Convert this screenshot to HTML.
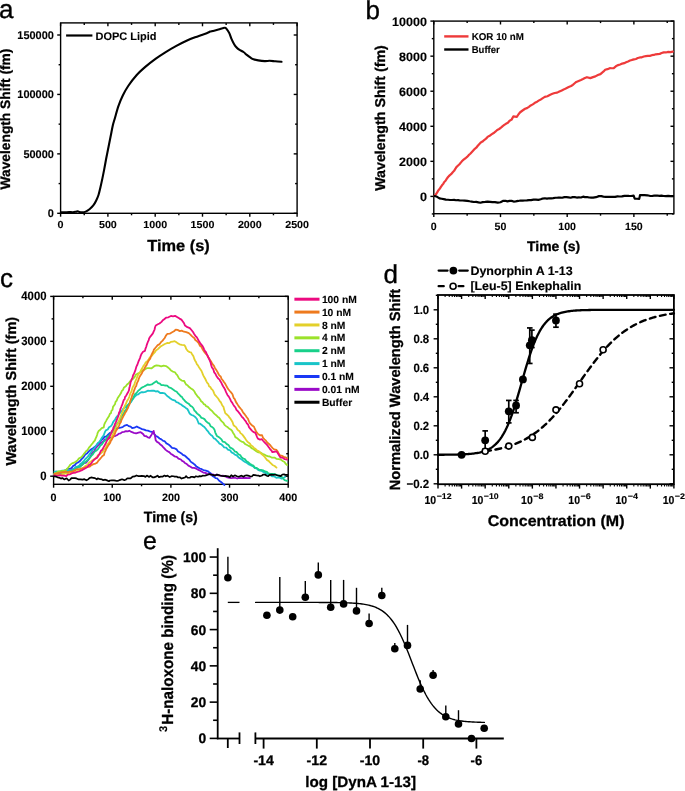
<!DOCTYPE html>
<html><head><meta charset="utf-8"><style>
html,body{margin:0;padding:0;background:#fff;}
svg{display:block;font-family:"Liberation Sans", sans-serif;-webkit-font-smoothing:antialiased;will-change:transform;} text{text-rendering:geometricPrecision;}
</style></head><body>
<svg width="685" height="791" viewBox="0 0 685 791">
<rect x="60.60" y="22.90" width="236.50" height="190.40" fill="none" stroke="#000" stroke-width="1.4"/>
<line x1="60.60" y1="213.30" x2="60.60" y2="216.70" stroke="#000" stroke-width="1.4" />
<line x1="60.60" y1="22.90" x2="60.60" y2="26.30" stroke="#000" stroke-width="1.4" />
<line x1="84.25" y1="213.30" x2="84.25" y2="215.30" stroke="#000" stroke-width="1.4" />
<line x1="84.25" y1="22.90" x2="84.25" y2="24.90" stroke="#000" stroke-width="1.4" />
<line x1="107.90" y1="213.30" x2="107.90" y2="216.70" stroke="#000" stroke-width="1.4" />
<line x1="107.90" y1="22.90" x2="107.90" y2="26.30" stroke="#000" stroke-width="1.4" />
<line x1="131.55" y1="213.30" x2="131.55" y2="215.30" stroke="#000" stroke-width="1.4" />
<line x1="131.55" y1="22.90" x2="131.55" y2="24.90" stroke="#000" stroke-width="1.4" />
<line x1="155.20" y1="213.30" x2="155.20" y2="216.70" stroke="#000" stroke-width="1.4" />
<line x1="155.20" y1="22.90" x2="155.20" y2="26.30" stroke="#000" stroke-width="1.4" />
<line x1="178.85" y1="213.30" x2="178.85" y2="215.30" stroke="#000" stroke-width="1.4" />
<line x1="178.85" y1="22.90" x2="178.85" y2="24.90" stroke="#000" stroke-width="1.4" />
<line x1="202.50" y1="213.30" x2="202.50" y2="216.70" stroke="#000" stroke-width="1.4" />
<line x1="202.50" y1="22.90" x2="202.50" y2="26.30" stroke="#000" stroke-width="1.4" />
<line x1="226.15" y1="213.30" x2="226.15" y2="215.30" stroke="#000" stroke-width="1.4" />
<line x1="226.15" y1="22.90" x2="226.15" y2="24.90" stroke="#000" stroke-width="1.4" />
<line x1="249.80" y1="213.30" x2="249.80" y2="216.70" stroke="#000" stroke-width="1.4" />
<line x1="249.80" y1="22.90" x2="249.80" y2="26.30" stroke="#000" stroke-width="1.4" />
<line x1="273.45" y1="213.30" x2="273.45" y2="215.30" stroke="#000" stroke-width="1.4" />
<line x1="273.45" y1="22.90" x2="273.45" y2="24.90" stroke="#000" stroke-width="1.4" />
<line x1="297.10" y1="213.30" x2="297.10" y2="216.70" stroke="#000" stroke-width="1.4" />
<line x1="297.10" y1="22.90" x2="297.10" y2="26.30" stroke="#000" stroke-width="1.4" />
<line x1="57.20" y1="213.30" x2="60.60" y2="213.30" stroke="#000" stroke-width="1.4" />
<line x1="297.10" y1="213.30" x2="293.70" y2="213.30" stroke="#000" stroke-width="1.4" />
<line x1="58.60" y1="183.58" x2="60.60" y2="183.58" stroke="#000" stroke-width="1.4" />
<line x1="297.10" y1="183.58" x2="295.10" y2="183.58" stroke="#000" stroke-width="1.4" />
<line x1="57.20" y1="153.87" x2="60.60" y2="153.87" stroke="#000" stroke-width="1.4" />
<line x1="297.10" y1="153.87" x2="293.70" y2="153.87" stroke="#000" stroke-width="1.4" />
<line x1="58.60" y1="124.15" x2="60.60" y2="124.15" stroke="#000" stroke-width="1.4" />
<line x1="297.10" y1="124.15" x2="295.10" y2="124.15" stroke="#000" stroke-width="1.4" />
<line x1="57.20" y1="94.43" x2="60.60" y2="94.43" stroke="#000" stroke-width="1.4" />
<line x1="297.10" y1="94.43" x2="293.70" y2="94.43" stroke="#000" stroke-width="1.4" />
<line x1="58.60" y1="64.72" x2="60.60" y2="64.72" stroke="#000" stroke-width="1.4" />
<line x1="297.10" y1="64.72" x2="295.10" y2="64.72" stroke="#000" stroke-width="1.4" />
<line x1="57.20" y1="35.00" x2="60.60" y2="35.00" stroke="#000" stroke-width="1.4" />
<line x1="297.10" y1="35.00" x2="293.70" y2="35.00" stroke="#000" stroke-width="1.4" />
<text x="53.90" y="217.20" font-size="11.2" font-weight="bold" text-anchor="end" fill="#000" stroke="#000" stroke-width="0.1" textLength="6.1" lengthAdjust="spacingAndGlyphs" >0</text>
<text x="53.90" y="157.77" font-size="11.2" font-weight="bold" text-anchor="end" fill="#000" stroke="#000" stroke-width="0.1" textLength="30.5" lengthAdjust="spacingAndGlyphs" >50000</text>
<text x="53.90" y="98.33" font-size="11.2" font-weight="bold" text-anchor="end" fill="#000" stroke="#000" stroke-width="0.1" textLength="36.6" lengthAdjust="spacingAndGlyphs" >100000</text>
<text x="53.90" y="38.90" font-size="11.2" font-weight="bold" text-anchor="end" fill="#000" stroke="#000" stroke-width="0.1" textLength="36.6" lengthAdjust="spacingAndGlyphs" >150000</text>
<text x="60.60" y="228.30" font-size="10.2" font-weight="bold" text-anchor="middle" fill="#000" stroke="#000" stroke-width="0.1" textLength="6.0" lengthAdjust="spacingAndGlyphs" >0</text>
<text x="107.90" y="228.30" font-size="10.2" font-weight="bold" text-anchor="middle" fill="#000" stroke="#000" stroke-width="0.1" textLength="17.9" lengthAdjust="spacingAndGlyphs" >500</text>
<text x="155.20" y="228.30" font-size="10.2" font-weight="bold" text-anchor="middle" fill="#000" stroke="#000" stroke-width="0.1" textLength="23.8" lengthAdjust="spacingAndGlyphs" >1000</text>
<text x="202.50" y="228.30" font-size="10.2" font-weight="bold" text-anchor="middle" fill="#000" stroke="#000" stroke-width="0.1" textLength="23.8" lengthAdjust="spacingAndGlyphs" >1500</text>
<text x="249.80" y="228.30" font-size="10.2" font-weight="bold" text-anchor="middle" fill="#000" stroke="#000" stroke-width="0.1" textLength="23.8" lengthAdjust="spacingAndGlyphs" >2000</text>
<text x="297.10" y="228.30" font-size="10.2" font-weight="bold" text-anchor="middle" fill="#000" stroke="#000" stroke-width="0.1" textLength="23.8" lengthAdjust="spacingAndGlyphs" >2500</text>
<text x="178.50" y="251.20" font-size="16" font-weight="bold" text-anchor="middle" fill="#000" stroke="#000" stroke-width="0.3" textLength="62.5" lengthAdjust="spacingAndGlyphs" >Time (s)</text>
<text x="10.30" y="119.00" font-size="13.7" font-weight="bold" text-anchor="middle" fill="#000" stroke="#000" stroke-width="0.3" textLength="140.8" lengthAdjust="spacingAndGlyphs" transform="rotate(-90 10.30 119.00)" >Wavelength Shift (fm)</text>
<text x="-1.00" y="17.60" font-size="26" font-weight="normal" text-anchor="start" fill="#000" stroke="#000" stroke-width="0.35" >a</text>
<line x1="66.10" y1="35.50" x2="92.40" y2="35.50" stroke="#000" stroke-width="2.2" />
<text x="95.50" y="39.60" font-size="11" font-weight="bold" text-anchor="start" fill="#000" stroke="#000" stroke-width="0.1" textLength="61" lengthAdjust="spacingAndGlyphs" >DOPC Lipid</text>
<path d="M60.90,212.40 C61.58,212.38 63.65,212.35 65.00,212.30 C66.35,212.25 67.67,212.12 69.00,212.10 C70.33,212.08 71.83,212.27 73.00,212.20 C74.17,212.13 75.20,211.85 76.00,211.70 C76.80,211.55 77.22,211.25 77.80,211.30 C78.38,211.35 78.80,211.83 79.50,212.00 C80.20,212.17 80.97,212.37 82.00,212.30 C83.03,212.23 84.45,212.12 85.70,211.60 C86.95,211.08 88.23,210.23 89.50,209.20 C90.77,208.17 92.20,206.82 93.30,205.40 C94.40,203.98 95.23,202.43 96.10,200.70 C96.97,198.97 97.78,197.22 98.50,195.00 C99.22,192.78 99.77,190.08 100.40,187.40 C101.03,184.72 101.67,181.90 102.30,178.90 C102.93,175.90 103.57,172.72 104.20,169.40 C104.83,166.08 105.47,162.32 106.10,159.00 C106.73,155.68 107.37,152.67 108.00,149.50 C108.63,146.33 109.40,142.50 109.90,140.00 C110.40,137.50 110.50,137.00 111.00,134.50 C111.50,132.00 112.27,127.67 112.90,125.00 C113.53,122.33 113.88,121.65 114.80,118.50 C115.72,115.35 117.07,109.93 118.40,106.10 C119.73,102.27 121.17,98.85 122.80,95.50 C124.43,92.15 125.92,89.38 128.20,86.00 C130.48,82.62 133.65,78.38 136.50,75.20 C139.35,72.02 142.13,69.62 145.30,66.90 C148.47,64.18 152.10,61.37 155.50,58.90 C158.90,56.43 162.30,54.23 165.70,52.10 C169.10,49.97 172.25,48.07 175.90,46.10 C179.55,44.13 184.42,41.77 187.60,40.30 C190.78,38.83 192.78,38.15 195.00,37.30 C197.22,36.45 198.95,35.88 200.90,35.20 C202.85,34.52 205.15,33.80 206.70,33.20 C208.25,32.60 209.22,31.97 210.20,31.60 C211.18,31.23 211.23,31.33 212.60,31.00 C213.97,30.67 216.75,30.05 218.40,29.60 C220.05,29.15 221.40,28.60 222.50,28.30 C223.60,28.00 224.27,27.63 225.00,27.80 C225.73,27.97 226.18,28.42 226.90,29.30 C227.62,30.18 228.52,31.45 229.30,33.10 C230.08,34.75 230.82,37.38 231.60,39.20 C232.38,41.02 233.20,42.65 234.00,44.00 C234.80,45.35 235.53,46.35 236.40,47.30 C237.27,48.25 238.02,48.92 239.20,49.70 C240.38,50.48 242.23,51.13 243.50,52.00 C244.77,52.87 245.62,53.95 246.80,54.90 C247.98,55.85 249.48,56.97 250.60,57.70 C251.72,58.43 252.23,58.85 253.50,59.30 C254.77,59.75 256.32,60.10 258.20,60.40 C260.08,60.70 262.90,61.03 264.80,61.10 C266.70,61.17 267.85,60.77 269.60,60.80 C271.35,60.83 273.32,61.13 275.30,61.30 C277.28,61.47 280.47,61.72 281.50,61.80" fill="none" stroke="#000" stroke-width="2.1" stroke-linejoin="round" stroke-linecap="round" />
<rect x="433.80" y="21.10" width="240.10" height="192.60" fill="none" stroke="#000" stroke-width="1.4"/>
<line x1="433.80" y1="213.70" x2="433.80" y2="217.10" stroke="#000" stroke-width="1.4" />
<line x1="433.80" y1="21.10" x2="433.80" y2="24.50" stroke="#000" stroke-width="1.4" />
<line x1="467.15" y1="213.70" x2="467.15" y2="215.70" stroke="#000" stroke-width="1.4" />
<line x1="467.15" y1="21.10" x2="467.15" y2="23.10" stroke="#000" stroke-width="1.4" />
<line x1="500.49" y1="213.70" x2="500.49" y2="217.10" stroke="#000" stroke-width="1.4" />
<line x1="500.49" y1="21.10" x2="500.49" y2="24.50" stroke="#000" stroke-width="1.4" />
<line x1="533.84" y1="213.70" x2="533.84" y2="215.70" stroke="#000" stroke-width="1.4" />
<line x1="533.84" y1="21.10" x2="533.84" y2="23.10" stroke="#000" stroke-width="1.4" />
<line x1="567.19" y1="213.70" x2="567.19" y2="217.10" stroke="#000" stroke-width="1.4" />
<line x1="567.19" y1="21.10" x2="567.19" y2="24.50" stroke="#000" stroke-width="1.4" />
<line x1="600.54" y1="213.70" x2="600.54" y2="215.70" stroke="#000" stroke-width="1.4" />
<line x1="600.54" y1="21.10" x2="600.54" y2="23.10" stroke="#000" stroke-width="1.4" />
<line x1="633.88" y1="213.70" x2="633.88" y2="217.10" stroke="#000" stroke-width="1.4" />
<line x1="633.88" y1="21.10" x2="633.88" y2="24.50" stroke="#000" stroke-width="1.4" />
<line x1="667.23" y1="213.70" x2="667.23" y2="215.70" stroke="#000" stroke-width="1.4" />
<line x1="667.23" y1="21.10" x2="667.23" y2="23.10" stroke="#000" stroke-width="1.4" />
<line x1="431.80" y1="213.93" x2="433.80" y2="213.93" stroke="#000" stroke-width="1.4" />
<line x1="673.90" y1="213.93" x2="671.90" y2="213.93" stroke="#000" stroke-width="1.4" />
<line x1="430.40" y1="196.40" x2="433.80" y2="196.40" stroke="#000" stroke-width="1.4" />
<line x1="673.90" y1="196.40" x2="670.50" y2="196.40" stroke="#000" stroke-width="1.4" />
<line x1="431.80" y1="178.87" x2="433.80" y2="178.87" stroke="#000" stroke-width="1.4" />
<line x1="673.90" y1="178.87" x2="671.90" y2="178.87" stroke="#000" stroke-width="1.4" />
<line x1="430.40" y1="161.34" x2="433.80" y2="161.34" stroke="#000" stroke-width="1.4" />
<line x1="673.90" y1="161.34" x2="670.50" y2="161.34" stroke="#000" stroke-width="1.4" />
<line x1="431.80" y1="143.81" x2="433.80" y2="143.81" stroke="#000" stroke-width="1.4" />
<line x1="673.90" y1="143.81" x2="671.90" y2="143.81" stroke="#000" stroke-width="1.4" />
<line x1="430.40" y1="126.28" x2="433.80" y2="126.28" stroke="#000" stroke-width="1.4" />
<line x1="673.90" y1="126.28" x2="670.50" y2="126.28" stroke="#000" stroke-width="1.4" />
<line x1="431.80" y1="108.75" x2="433.80" y2="108.75" stroke="#000" stroke-width="1.4" />
<line x1="673.90" y1="108.75" x2="671.90" y2="108.75" stroke="#000" stroke-width="1.4" />
<line x1="430.40" y1="91.22" x2="433.80" y2="91.22" stroke="#000" stroke-width="1.4" />
<line x1="673.90" y1="91.22" x2="670.50" y2="91.22" stroke="#000" stroke-width="1.4" />
<line x1="431.80" y1="73.69" x2="433.80" y2="73.69" stroke="#000" stroke-width="1.4" />
<line x1="673.90" y1="73.69" x2="671.90" y2="73.69" stroke="#000" stroke-width="1.4" />
<line x1="430.40" y1="56.16" x2="433.80" y2="56.16" stroke="#000" stroke-width="1.4" />
<line x1="673.90" y1="56.16" x2="670.50" y2="56.16" stroke="#000" stroke-width="1.4" />
<line x1="431.80" y1="38.63" x2="433.80" y2="38.63" stroke="#000" stroke-width="1.4" />
<line x1="673.90" y1="38.63" x2="671.90" y2="38.63" stroke="#000" stroke-width="1.4" />
<line x1="430.40" y1="21.10" x2="433.80" y2="21.10" stroke="#000" stroke-width="1.4" />
<line x1="673.90" y1="21.10" x2="670.50" y2="21.10" stroke="#000" stroke-width="1.4" />
<text x="426.90" y="200.90" font-size="12.2" font-weight="bold" text-anchor="end" fill="#000" stroke="#000" stroke-width="0.15" textLength="7.0" lengthAdjust="spacingAndGlyphs" >0</text>
<text x="426.90" y="165.84" font-size="12.2" font-weight="bold" text-anchor="end" fill="#000" stroke="#000" stroke-width="0.15" textLength="27.8" lengthAdjust="spacingAndGlyphs" >2000</text>
<text x="426.90" y="130.78" font-size="12.2" font-weight="bold" text-anchor="end" fill="#000" stroke="#000" stroke-width="0.15" textLength="27.8" lengthAdjust="spacingAndGlyphs" >4000</text>
<text x="426.90" y="95.72" font-size="12.2" font-weight="bold" text-anchor="end" fill="#000" stroke="#000" stroke-width="0.15" textLength="27.8" lengthAdjust="spacingAndGlyphs" >6000</text>
<text x="426.90" y="60.66" font-size="12.2" font-weight="bold" text-anchor="end" fill="#000" stroke="#000" stroke-width="0.15" textLength="27.8" lengthAdjust="spacingAndGlyphs" >8000</text>
<text x="426.90" y="25.60" font-size="12.2" font-weight="bold" text-anchor="end" fill="#000" stroke="#000" stroke-width="0.15" textLength="34.8" lengthAdjust="spacingAndGlyphs" >10000</text>
<text x="433.80" y="229.50" font-size="10.5" font-weight="bold" text-anchor="middle" fill="#000" stroke="#000" stroke-width="0.1" textLength="5.9" lengthAdjust="spacingAndGlyphs" >0</text>
<text x="500.49" y="229.50" font-size="10.5" font-weight="bold" text-anchor="middle" fill="#000" stroke="#000" stroke-width="0.1" textLength="11.8" lengthAdjust="spacingAndGlyphs" >50</text>
<text x="567.19" y="229.50" font-size="10.5" font-weight="bold" text-anchor="middle" fill="#000" stroke="#000" stroke-width="0.1" textLength="17.7" lengthAdjust="spacingAndGlyphs" >100</text>
<text x="633.88" y="229.50" font-size="10.5" font-weight="bold" text-anchor="middle" fill="#000" stroke="#000" stroke-width="0.1" textLength="17.7" lengthAdjust="spacingAndGlyphs" >150</text>
<text x="553.60" y="250.90" font-size="13.8" font-weight="bold" text-anchor="middle" fill="#000" stroke="#000" stroke-width="0.3" textLength="53.2" lengthAdjust="spacingAndGlyphs" >Time (s)</text>
<text x="384.50" y="118.00" font-size="14.2" font-weight="bold" text-anchor="middle" fill="#000" stroke="#000" stroke-width="0.3" textLength="145.6" lengthAdjust="spacingAndGlyphs" transform="rotate(-90 384.50 118.00)" >Wavelength Shift (fm)</text>
<text x="365.50" y="18.80" font-size="26" font-weight="normal" text-anchor="start" fill="#000" stroke="#000" stroke-width="0.35" >b</text>
<line x1="444.20" y1="36.40" x2="468.50" y2="36.40" stroke="#ee3a3a" stroke-width="2.4" />
<line x1="444.20" y1="49.50" x2="468.50" y2="49.50" stroke="#000" stroke-width="2.4" />
<text x="471.70" y="40.00" font-size="10" font-weight="bold" text-anchor="start" fill="#000" stroke="#000" stroke-width="0.1" textLength="52.2" lengthAdjust="spacingAndGlyphs" >KOR 10 nM</text>
<text x="471.70" y="53.00" font-size="10" font-weight="bold" text-anchor="start" fill="#000" stroke="#000" stroke-width="0.1" textLength="28.1" lengthAdjust="spacingAndGlyphs" >Buffer</text>
<polyline points="434.63,195.95 435.94,194.27 437.19,192.45 438.29,190.38 439.71,188.84 440.90,186.87 441.99,185.30 443.21,183.84 444.28,181.98 445.55,180.75 446.86,178.65 448.07,176.98 449.63,175.38 451.08,174.22 452.73,172.23 454.12,170.82 455.15,169.08 456.41,167.11 457.83,165.76 459.45,164.28 460.99,162.38 462.37,160.80 463.91,159.34 465.55,158.26 467.08,156.91 468.66,155.19 470.28,153.79 471.66,152.29 473.25,150.53 474.81,148.86 476.26,147.71 477.58,146.02 479.17,144.25 480.76,142.49 482.48,141.59 484.17,140.03 486.02,138.71 487.56,136.91 489.61,135.77 491.51,134.35 493.67,133.02 495.34,131.72 497.20,130.00 499.18,129.00 500.96,127.65 502.68,126.15 504.29,124.94 505.90,123.79 507.88,122.83 509.59,120.80 511.62,119.62 513.28,116.44 516.82,116.80 518.54,114.25 520.19,112.25 522.54,110.50 525.08,108.78 526.99,108.10 528.90,106.84 530.71,105.46 532.78,104.37 534.88,102.81 537.12,101.71 539.06,100.37 540.90,99.44 542.84,98.07 544.78,96.89 547.42,96.19 550.21,94.78 552.43,93.84 554.67,93.03 557.17,92.62 559.37,91.50 561.77,90.38 564.04,89.36 566.33,88.22 568.68,86.99 571.16,86.01 572.82,84.83 574.67,83.28 576.28,81.93 578.64,80.95 580.99,79.99 583.00,79.05 584.90,78.02 586.96,77.20 590.36,78.11 592.94,77.11 595.41,76.37 597.90,75.02 600.42,74.10 602.14,72.59 603.61,71.43 605.16,69.80 607.47,69.15 609.74,68.15 611.73,68.26 613.73,68.13 615.84,66.30 618.19,65.09 620.13,64.54 622.23,63.59 624.19,63.14 626.04,62.26 628.06,61.46 629.98,60.55 631.99,59.93 634.00,59.43 635.89,58.99 637.81,58.07 639.85,57.45 641.78,57.32 643.82,56.47 645.85,56.13 647.81,55.90 649.79,55.90 651.83,55.20 653.80,54.96 655.67,54.29 657.70,54.09 659.76,53.88 661.65,53.06 663.69,52.40 665.81,52.46 668.23,51.93 670.53,52.11 672.80,51.60" fill="none" stroke="#ee3a3a" stroke-width="2.2" stroke-linejoin="round" stroke-linecap="round" />
<polyline points="434.68,196.03 437.10,196.83 439.46,198.31 441.69,198.78 443.76,199.19 445.84,199.61 448.06,199.74 450.01,200.01 451.91,200.00 454.09,199.89 456.08,200.26 458.10,200.10 459.89,200.51 462.49,200.49 464.69,200.54 467.24,200.83 469.73,201.26 471.68,201.55 473.88,201.98 476.19,201.93 478.28,202.30 480.49,202.73 482.67,202.15 485.23,201.96 487.62,201.66 490.11,201.82 492.39,202.16 494.95,202.09 497.80,202.55 500.47,202.26 503.36,200.86 505.45,200.81 507.40,201.38 509.56,200.91 511.57,200.92 513.60,201.55 515.68,201.35 518.17,200.96 520.53,200.49 522.83,200.57 524.85,200.50 526.89,200.38 529.08,200.09 531.09,200.14 533.50,199.61 536.02,199.64 538.37,199.90 540.71,199.27 542.69,198.56 544.86,198.27 546.99,198.68 549.03,198.26 551.31,198.34 553.24,198.18 555.49,197.75 557.67,197.66 559.99,197.48 562.14,197.73 564.42,197.11 566.43,197.15 568.47,197.34 570.68,197.73 572.64,197.15 574.76,197.11 576.72,197.54 578.82,197.43 580.96,197.51 583.10,196.69 584.91,197.11 587.03,197.00 589.08,197.52 591.15,197.53 593.19,197.70 596.00,197.19 598.93,196.15 601.24,196.18 603.39,196.64 605.79,196.88 608.14,196.81 610.30,196.97 612.58,196.88 615.13,196.92 617.44,196.43 619.70,196.50 621.87,196.44 624.40,195.93 626.68,195.76 628.84,195.95 631.08,196.01 633.63,195.65 634.72,198.61 636.95,198.75 639.23,198.85 639.72,196.62 639.98,195.22 642.39,195.22 644.47,195.17 647.36,195.29 650.34,195.99 652.63,195.94 654.76,195.50 657.16,195.53 659.33,195.83 661.54,195.62 663.64,195.99 665.85,196.06 668.10,195.95 670.55,196.15 673.10,196.10" fill="none" stroke="#000" stroke-width="2.2" stroke-linejoin="round" stroke-linecap="round" />
<rect x="53.60" y="296.30" width="234.60" height="188.00" fill="none" stroke="#000" stroke-width="1.4"/>
<line x1="53.60" y1="484.30" x2="53.60" y2="487.70" stroke="#000" stroke-width="1.4" />
<line x1="53.60" y1="296.30" x2="53.60" y2="299.70" stroke="#000" stroke-width="1.4" />
<line x1="82.92" y1="484.30" x2="82.92" y2="486.30" stroke="#000" stroke-width="1.4" />
<line x1="82.92" y1="296.30" x2="82.92" y2="298.30" stroke="#000" stroke-width="1.4" />
<line x1="112.25" y1="484.30" x2="112.25" y2="487.70" stroke="#000" stroke-width="1.4" />
<line x1="112.25" y1="296.30" x2="112.25" y2="299.70" stroke="#000" stroke-width="1.4" />
<line x1="141.57" y1="484.30" x2="141.57" y2="486.30" stroke="#000" stroke-width="1.4" />
<line x1="141.57" y1="296.30" x2="141.57" y2="298.30" stroke="#000" stroke-width="1.4" />
<line x1="170.90" y1="484.30" x2="170.90" y2="487.70" stroke="#000" stroke-width="1.4" />
<line x1="170.90" y1="296.30" x2="170.90" y2="299.70" stroke="#000" stroke-width="1.4" />
<line x1="200.22" y1="484.30" x2="200.22" y2="486.30" stroke="#000" stroke-width="1.4" />
<line x1="200.22" y1="296.30" x2="200.22" y2="298.30" stroke="#000" stroke-width="1.4" />
<line x1="229.55" y1="484.30" x2="229.55" y2="487.70" stroke="#000" stroke-width="1.4" />
<line x1="229.55" y1="296.30" x2="229.55" y2="299.70" stroke="#000" stroke-width="1.4" />
<line x1="258.88" y1="484.30" x2="258.88" y2="486.30" stroke="#000" stroke-width="1.4" />
<line x1="258.88" y1="296.30" x2="258.88" y2="298.30" stroke="#000" stroke-width="1.4" />
<line x1="288.20" y1="484.30" x2="288.20" y2="487.70" stroke="#000" stroke-width="1.4" />
<line x1="288.20" y1="296.30" x2="288.20" y2="299.70" stroke="#000" stroke-width="1.4" />
<line x1="50.20" y1="476.20" x2="53.60" y2="476.20" stroke="#000" stroke-width="1.4" />
<line x1="288.20" y1="476.20" x2="284.80" y2="476.20" stroke="#000" stroke-width="1.4" />
<line x1="51.60" y1="453.72" x2="53.60" y2="453.72" stroke="#000" stroke-width="1.4" />
<line x1="288.20" y1="453.72" x2="286.20" y2="453.72" stroke="#000" stroke-width="1.4" />
<line x1="50.20" y1="431.25" x2="53.60" y2="431.25" stroke="#000" stroke-width="1.4" />
<line x1="288.20" y1="431.25" x2="284.80" y2="431.25" stroke="#000" stroke-width="1.4" />
<line x1="51.60" y1="408.77" x2="53.60" y2="408.77" stroke="#000" stroke-width="1.4" />
<line x1="288.20" y1="408.77" x2="286.20" y2="408.77" stroke="#000" stroke-width="1.4" />
<line x1="50.20" y1="386.30" x2="53.60" y2="386.30" stroke="#000" stroke-width="1.4" />
<line x1="288.20" y1="386.30" x2="284.80" y2="386.30" stroke="#000" stroke-width="1.4" />
<line x1="51.60" y1="363.82" x2="53.60" y2="363.82" stroke="#000" stroke-width="1.4" />
<line x1="288.20" y1="363.82" x2="286.20" y2="363.82" stroke="#000" stroke-width="1.4" />
<line x1="50.20" y1="341.35" x2="53.60" y2="341.35" stroke="#000" stroke-width="1.4" />
<line x1="288.20" y1="341.35" x2="284.80" y2="341.35" stroke="#000" stroke-width="1.4" />
<line x1="51.60" y1="318.88" x2="53.60" y2="318.88" stroke="#000" stroke-width="1.4" />
<line x1="288.20" y1="318.88" x2="286.20" y2="318.88" stroke="#000" stroke-width="1.4" />
<line x1="50.20" y1="296.40" x2="53.60" y2="296.40" stroke="#000" stroke-width="1.4" />
<line x1="288.20" y1="296.40" x2="284.80" y2="296.40" stroke="#000" stroke-width="1.4" />
<text x="46.50" y="479.90" font-size="12.2" font-weight="bold" text-anchor="end" fill="#000" stroke="#000" stroke-width="0.15" textLength="6.3" lengthAdjust="spacingAndGlyphs" >0</text>
<text x="46.50" y="434.95" font-size="12.2" font-weight="bold" text-anchor="end" fill="#000" stroke="#000" stroke-width="0.15" textLength="25.2" lengthAdjust="spacingAndGlyphs" >1000</text>
<text x="46.50" y="390.00" font-size="12.2" font-weight="bold" text-anchor="end" fill="#000" stroke="#000" stroke-width="0.15" textLength="25.2" lengthAdjust="spacingAndGlyphs" >2000</text>
<text x="46.50" y="345.05" font-size="12.2" font-weight="bold" text-anchor="end" fill="#000" stroke="#000" stroke-width="0.15" textLength="25.2" lengthAdjust="spacingAndGlyphs" >3000</text>
<text x="46.50" y="300.10" font-size="12.2" font-weight="bold" text-anchor="end" fill="#000" stroke="#000" stroke-width="0.15" textLength="25.2" lengthAdjust="spacingAndGlyphs" >4000</text>
<text x="53.60" y="500.50" font-size="10.8" font-weight="bold" text-anchor="middle" fill="#000" stroke="#000" stroke-width="0.1" textLength="6.0" lengthAdjust="spacingAndGlyphs" >0</text>
<text x="112.25" y="500.50" font-size="10.8" font-weight="bold" text-anchor="middle" fill="#000" stroke="#000" stroke-width="0.1" textLength="18.0" lengthAdjust="spacingAndGlyphs" >100</text>
<text x="170.90" y="500.50" font-size="10.8" font-weight="bold" text-anchor="middle" fill="#000" stroke="#000" stroke-width="0.1" textLength="18.0" lengthAdjust="spacingAndGlyphs" >200</text>
<text x="229.55" y="500.50" font-size="10.8" font-weight="bold" text-anchor="middle" fill="#000" stroke="#000" stroke-width="0.1" textLength="18.0" lengthAdjust="spacingAndGlyphs" >300</text>
<text x="288.20" y="500.50" font-size="10.8" font-weight="bold" text-anchor="middle" fill="#000" stroke="#000" stroke-width="0.1" textLength="18.0" lengthAdjust="spacingAndGlyphs" >400</text>
<text x="170.80" y="522.30" font-size="14.8" font-weight="bold" text-anchor="middle" fill="#000" stroke="#000" stroke-width="0.3" textLength="54" lengthAdjust="spacingAndGlyphs" >Time (s)</text>
<text x="16.10" y="391.20" font-size="14.4" font-weight="bold" text-anchor="middle" fill="#000" stroke="#000" stroke-width="0.3" textLength="148.8" lengthAdjust="spacingAndGlyphs" transform="rotate(-90 16.10 391.20)" >Wavelength Shift (fm)</text>
<text x="0.00" y="287.20" font-size="26" font-weight="normal" text-anchor="start" fill="#000" stroke="#000" stroke-width="0.35" >c</text>
<line x1="294.40" y1="299.20" x2="319.50" y2="299.20" stroke="#ec0a80" stroke-width="3.0" />
<text x="321.90" y="302.80" font-size="10.3" font-weight="bold" text-anchor="start" fill="#000" stroke="#000" stroke-width="0.1" >100 nM</text>
<line x1="294.40" y1="312.08" x2="319.50" y2="312.08" stroke="#ee7a1e" stroke-width="3.0" />
<text x="321.90" y="315.68" font-size="10.3" font-weight="bold" text-anchor="start" fill="#000" stroke="#000" stroke-width="0.1" >10 nM</text>
<line x1="294.40" y1="324.96" x2="319.50" y2="324.96" stroke="#e3d02a" stroke-width="3.0" />
<text x="321.90" y="328.56" font-size="10.3" font-weight="bold" text-anchor="start" fill="#000" stroke="#000" stroke-width="0.1" >8 nM</text>
<line x1="294.40" y1="337.84" x2="319.50" y2="337.84" stroke="#9be22a" stroke-width="3.0" />
<text x="321.90" y="341.44" font-size="10.3" font-weight="bold" text-anchor="start" fill="#000" stroke="#000" stroke-width="0.1" >4 nM</text>
<line x1="294.40" y1="350.72" x2="319.50" y2="350.72" stroke="#18d08a" stroke-width="3.0" />
<text x="321.90" y="354.32" font-size="10.3" font-weight="bold" text-anchor="start" fill="#000" stroke="#000" stroke-width="0.1" >2 nM</text>
<line x1="294.40" y1="363.60" x2="319.50" y2="363.60" stroke="#18c4c8" stroke-width="3.0" />
<text x="321.90" y="367.20" font-size="10.3" font-weight="bold" text-anchor="start" fill="#000" stroke="#000" stroke-width="0.1" >1 nM</text>
<line x1="294.40" y1="376.48" x2="319.50" y2="376.48" stroke="#1a38f5" stroke-width="3.0" />
<text x="321.90" y="380.08" font-size="10.3" font-weight="bold" text-anchor="start" fill="#000" stroke="#000" stroke-width="0.1" >0.1 nM</text>
<line x1="294.40" y1="389.36" x2="319.50" y2="389.36" stroke="#9a0ac8" stroke-width="3.0" />
<text x="321.90" y="392.96" font-size="10.3" font-weight="bold" text-anchor="start" fill="#000" stroke="#000" stroke-width="0.1" >0.01 nM</text>
<line x1="294.40" y1="402.24" x2="319.50" y2="402.24" stroke="#000000" stroke-width="3.0" />
<text x="321.90" y="405.84" font-size="10.3" font-weight="bold" text-anchor="start" fill="#000" stroke="#000" stroke-width="0.1" >Buffer</text>
<polyline points="54.18,474.25 56.14,473.75 58.16,472.59 59.79,472.87 61.93,471.34 64.28,470.73 66.25,469.87 67.96,468.78 69.76,468.84 71.51,467.97 73.20,465.90 74.86,465.15 76.29,463.21 78.16,462.37 79.38,461.52 80.65,460.26 81.79,458.83 83.10,457.68 84.57,455.46 85.59,454.24 87.30,453.13 88.51,451.63 89.80,450.37 91.33,449.27 93.04,448.29 94.68,447.00 96.36,445.74 97.71,443.40 99.23,442.84 100.68,440.98 101.97,439.36 103.40,438.53 104.53,436.74 106.16,436.54 107.82,434.98 109.96,432.92 111.78,432.36 113.90,430.33 115.65,429.10 118.10,428.21 120.57,427.73 122.60,427.15 124.72,425.53 127.04,424.88 128.67,426.10 130.65,426.62 132.20,428.20 134.42,427.70 136.77,426.47 138.38,427.42 140.26,428.31 142.03,429.13 144.19,429.61 145.97,430.44 147.88,430.58 150.66,431.72 152.92,432.06 154.46,434.29 155.89,435.93 157.76,436.92 159.56,438.44 161.38,439.39 163.19,440.89 164.69,441.22 166.42,443.41 167.67,444.05 169.26,445.10 170.60,446.29 172.04,447.81 174.91,448.46 176.65,449.41 178.10,451.53 179.52,452.29 181.43,453.46 182.86,454.83 184.79,455.61 186.32,457.02 187.97,458.56 189.41,459.69 190.60,461.64 192.27,462.85 193.40,463.61 194.96,464.81 196.51,466.65 197.66,467.16 199.84,468.52 201.73,469.16 203.34,470.07 205.88,470.60 207.93,471.31 209.50,472.63 211.25,473.69 212.38,475.89 214.27,477.07 215.57,478.16 217.29,478.49 219.16,480.77 221.07,482.02 222.66,483.33 224.50,485.00" fill="none" stroke="#1a38f5" stroke-width="1.8" stroke-linejoin="round" stroke-linecap="round" />
<polyline points="54.18,474.52 56.12,474.43 58.00,473.83 59.83,474.21 61.62,474.10 63.39,473.42 64.79,473.27 66.52,471.95 68.41,471.36 69.96,470.98 71.72,469.49 73.22,469.23 74.99,468.31 76.68,466.79 78.52,466.60 80.11,465.70 82.19,464.84 84.01,462.89 85.79,462.77 87.40,461.05 88.60,459.50 89.77,457.62 91.02,455.28 91.80,453.59 92.89,451.97 94.33,451.27 95.00,449.32 96.16,447.56 97.23,446.36 98.88,444.81 100.24,443.53 101.75,442.54 103.56,441.11 104.82,439.65 107.44,439.11 110.12,437.87 112.00,437.34 113.70,436.26 115.60,435.82 117.25,434.97 118.94,433.64 120.66,433.29 122.13,432.16 123.97,431.82 125.99,431.06 127.78,431.32 129.30,430.76 131.43,431.94 133.87,432.83 136.13,433.38 138.50,432.67 140.63,432.10 141.78,433.01 143.32,434.30 144.22,435.76 146.37,436.25 147.79,437.38 149.63,437.78 151.08,435.57 152.40,433.09 153.63,430.89 154.27,433.71 154.89,435.57 155.46,438.73 155.71,440.31 157.33,442.06 158.59,442.55 159.99,444.23 161.65,445.42 162.92,446.87 164.35,448.33 165.68,449.86 167.51,451.20 169.21,452.13 170.98,453.98 172.78,454.92 174.49,456.26 176.74,456.85 178.46,458.64 180.88,459.52 182.10,460.87 183.41,461.49 184.84,462.97 186.32,463.71 188.38,465.63 190.11,466.49 192.06,467.79 194.04,467.91 195.78,468.41 197.79,469.57 199.56,470.31 201.52,471.53 203.34,472.54 205.39,472.88 207.29,473.90 209.34,474.36 211.09,474.71 213.16,474.52 215.00,475.31 216.75,474.70 218.52,475.44 220.58,475.90 222.96,475.68 224.96,476.27 227.26,477.33 229.46,477.81 231.09,478.05 233.02,477.84 235.10,477.74 237.15,478.50 239.58,477.91 242.04,478.19 243.76,477.82 245.92,477.98 247.80,478.09 249.90,478.00" fill="none" stroke="#9a0ac8" stroke-width="1.8" stroke-linejoin="round" stroke-linecap="round" />
<polyline points="54.50,471.88 56.23,471.35 58.02,471.72 59.86,471.73 62.12,470.62 64.05,470.69 65.89,470.88 67.59,470.56 69.66,470.47 71.40,470.18 73.58,469.02 75.27,467.32 77.12,466.51 79.10,465.80 80.55,463.75 82.10,462.74 83.42,461.53 85.15,459.19 86.79,457.71 87.81,456.62 89.20,454.72 90.50,452.89 91.64,450.86 92.81,449.74 94.41,448.03 95.71,446.31 96.80,444.81 98.36,442.92 99.50,441.62 100.78,439.77 101.76,437.86 103.02,436.30 103.94,434.65 104.83,432.28 105.82,430.37 107.72,429.45 109.06,427.26 110.76,426.27 111.97,424.73 112.90,422.53 113.84,421.03 114.93,419.90 115.81,418.01 117.10,416.23 118.13,415.63 119.40,413.63 120.42,412.41 121.66,411.40 122.88,409.22 124.16,407.98 125.48,407.05 126.66,405.90 128.39,404.39 129.77,403.16 131.07,402.03 132.20,400.00 133.66,397.94 134.83,396.50 136.57,394.77 138.13,394.47 139.40,393.35 141.28,392.19 143.22,392.27 145.52,391.91 147.72,390.76 149.82,390.94 151.89,390.74 153.81,390.59 155.83,391.51 157.86,391.23 160.21,392.98 162.33,392.85 164.71,393.37 167.15,396.00 168.99,397.24 170.47,398.56 172.01,399.56 175.11,400.69 176.39,402.21 178.16,402.59 179.54,403.73 181.14,404.53 182.38,405.65 184.22,406.71 185.78,407.91 187.37,409.04 188.61,411.29 189.59,413.47 191.55,415.02 193.41,415.64 195.48,417.20 196.72,418.71 197.72,420.99 198.69,423.51 200.20,423.70 201.74,424.93 203.23,426.28 204.43,427.11 205.85,428.78 207.03,430.41 208.24,431.66 209.09,433.04 210.84,434.94 212.13,435.85 213.78,438.32 215.27,438.79 216.56,440.42 218.15,441.89 219.53,443.69 221.33,444.32 222.78,445.75 224.13,447.36 226.19,447.69 227.91,449.62 230.20,450.35 231.56,452.41 233.13,453.13 234.88,454.67 236.79,455.34 238.38,457.28 240.10,458.41 241.81,459.52 243.26,460.70 245.07,461.98 246.50,462.64 248.35,464.12 249.99,464.88 251.54,465.59 253.29,466.43 254.84,468.21 256.58,468.46 258.06,469.95 259.91,470.67 261.69,470.87 263.37,471.86 264.89,472.56 266.55,473.69 268.70,474.47 270.53,475.15 272.32,476.41 274.39,476.43 276.35,477.76 279.19,477.36 281.68,478.71 285.00,477.00" fill="none" stroke="#18c4c8" stroke-width="1.8" stroke-linejoin="round" stroke-linecap="round" />
<polyline points="54.18,474.27 56.18,474.15 58.17,473.81 60.05,472.79 61.80,472.31 64.00,472.00 65.56,472.58 67.55,472.14 69.41,471.32 71.38,471.36 73.27,470.30 75.06,469.69 76.59,468.53 78.36,467.13 80.25,466.80 81.74,465.08 83.12,464.06 84.70,462.33 86.03,461.48 87.41,460.26 88.97,458.68 90.20,457.45 91.27,455.74 92.88,454.29 93.90,452.58 95.08,451.23 96.67,450.35 97.92,449.14 99.09,447.57 100.34,445.51 101.80,444.54 103.00,442.70 104.12,441.23 105.42,440.41 106.31,439.03 107.46,436.73 108.90,435.56 110.01,434.55 111.00,432.99 112.30,430.97 113.53,429.63 114.91,427.45 115.83,425.78 116.96,423.87 117.85,422.96 119.09,421.52 120.21,419.75 120.94,417.29 121.92,415.96 123.01,414.38 123.94,413.05 124.91,410.96 126.17,409.67 126.91,407.38 128.13,405.46 128.81,404.46 129.96,402.49 130.72,400.96 132.00,399.68 133.07,398.46 134.04,396.06 134.66,394.46 135.97,393.45 137.00,392.30 138.22,390.67 139.49,389.83 141.06,388.19 142.40,387.32 144.16,386.54 145.78,385.64 147.52,384.50 149.78,384.82 151.70,384.46 154.12,382.66 156.35,381.17 158.16,383.14 159.88,383.66 161.37,385.17 163.44,385.21 165.26,385.52 167.16,385.55 168.98,387.44 170.52,387.80 172.03,388.85 175.13,390.95 176.74,391.79 177.99,393.36 179.56,394.89 180.87,396.40 181.90,396.83 183.01,398.83 184.09,399.96 185.73,401.82 186.99,402.72 188.64,403.72 190.57,405.91 192.16,406.76 193.42,408.25 194.32,410.46 195.42,411.35 197.20,413.62 198.42,414.55 199.90,415.79 201.42,417.86 202.88,418.17 204.47,419.14 206.14,421.40 207.82,422.81 209.34,423.66 210.60,426.21 212.01,426.94 213.69,428.44 214.57,429.90 215.28,432.60 216.09,434.25 216.96,436.04 218.60,437.09 219.79,437.86 221.49,439.42 222.66,441.55 224.86,442.14 226.80,444.10 228.45,445.07 230.20,447.69 231.90,448.39 233.38,449.56 235.00,451.59 236.41,451.96 238.47,454.35 240.16,455.02 241.56,457.30 243.29,458.52 244.87,459.10 246.53,461.22 248.37,462.35 249.88,463.64 251.52,464.81 253.35,465.62 254.89,467.60 256.65,467.95 258.94,469.54 260.82,469.78 263.07,470.41 265.18,471.47 266.90,471.81 268.29,473.31 270.40,473.91 272.11,473.86 273.92,473.85 276.02,474.67 278.04,475.28 280.32,475.61 281.68,476.73 283.00,478.38 284.61,480.08 287.10,480.90" fill="none" stroke="#18d08a" stroke-width="1.8" stroke-linejoin="round" stroke-linecap="round" />
<polyline points="54.46,473.47 56.37,472.92 58.53,471.29 60.80,471.26 62.50,470.79 64.24,470.78 66.08,469.88 67.55,468.51 69.18,466.33 70.37,464.63 72.01,463.35 74.15,462.67 75.61,461.69 77.37,460.48 78.99,458.29 80.70,457.67 82.27,456.30 83.72,454.15 84.86,452.71 86.23,450.96 87.67,449.91 88.94,447.59 90.08,446.32 91.55,444.54 92.62,443.22 94.00,441.38 94.83,440.58 95.55,438.59 96.39,436.92 97.15,434.70 97.76,432.57 98.57,431.07 99.99,430.03 101.71,428.06 103.74,427.31 104.22,424.68 105.13,422.66 106.15,420.85 106.86,419.40 107.93,417.77 108.94,416.34 109.81,414.04 111.01,413.01 111.42,410.94 112.51,409.74 113.01,406.86 113.99,405.51 114.97,404.16 115.53,401.91 116.69,400.62 117.57,398.28 118.57,396.76 119.59,395.28 121.01,393.08 121.82,390.94 122.99,389.86 124.02,387.46 125.81,386.28 127.21,384.17 128.71,383.34 130.08,381.37 131.73,379.62 133.24,378.67 134.72,376.92 135.87,374.62 137.57,373.69 139.07,373.11 140.68,371.86 142.99,370.08 144.98,369.39 146.67,368.16 149.05,368.20 151.65,368.29 154.25,366.21 156.46,365.38 158.76,365.53 161.20,366.31 163.63,365.67 165.98,366.04 167.73,367.22 169.39,368.59 170.98,370.42 172.81,371.53 174.95,372.24 176.19,374.04 177.27,375.11 178.58,377.70 179.60,379.09 181.75,380.59 184.18,380.99 185.39,383.26 186.33,384.70 187.54,385.22 188.80,386.82 191.05,388.49 193.03,389.83 194.49,391.51 195.48,393.67 196.58,394.99 197.79,396.81 198.77,397.45 200.16,399.41 201.11,401.23 202.52,402.30 203.71,404.07 205.03,404.60 206.13,406.15 207.88,406.91 209.19,408.27 210.51,409.84 212.08,410.92 213.30,412.53 214.82,414.15 216.16,415.21 217.57,416.65 219.13,417.74 220.30,419.58 221.79,421.31 223.20,422.56 224.79,425.17 226.36,426.42 227.58,427.07 228.95,428.50 230.67,429.43 232.10,430.97 233.00,432.77 234.37,434.72 235.33,437.11 236.77,437.86 238.71,439.54 240.20,440.72 241.52,441.56 243.41,442.10 244.93,443.92 246.52,444.69 248.10,445.58 249.80,446.41 251.49,448.13 253.31,449.05 254.93,450.30 256.63,451.43 258.52,452.44 260.45,452.50 262.35,453.80 264.37,454.58 266.27,455.70 268.19,456.35 269.74,456.50 272.06,457.70 274.45,457.54 276.35,458.83 278.81,459.18 281.00,459.71 283.12,461.19 284.48,461.96 285.61,463.80 287.10,465.00" fill="none" stroke="#9be22a" stroke-width="1.8" stroke-linejoin="round" stroke-linecap="round" />
<polyline points="54.47,474.60 56.22,474.34 58.71,474.48 60.70,474.94 62.91,473.94 65.09,473.45 66.90,473.92 68.86,472.89 71.01,472.91 73.21,472.36 75.13,472.38 76.96,471.51 78.72,470.46 80.35,469.67 82.43,468.63 83.71,467.48 85.18,466.14 86.92,465.16 88.46,463.65 89.73,462.14 91.40,461.09 93.03,459.94 94.47,459.10 95.77,458.03 97.06,456.48 98.32,454.87 99.88,454.14 100.92,453.39 102.49,451.85 103.77,450.09 105.05,448.53 105.81,447.85 106.73,445.70 107.92,443.82 109.15,442.41 109.79,440.87 110.58,439.34 111.76,437.77 112.20,435.72 113.11,433.71 113.91,431.74 114.64,430.30 115.42,428.88 116.20,427.09 117.06,424.33 118.11,423.03 118.87,421.13 119.56,418.79 120.33,417.39 121.20,414.96 121.56,413.82 122.69,411.66 123.34,409.94 123.95,407.96 124.90,405.62 125.63,404.55 126.47,402.40 127.32,400.41 128.35,398.98 129.34,396.83 129.87,394.82 130.53,392.90 131.48,391.50 132.05,389.22 132.70,387.41 133.60,385.68 134.49,384.21 134.97,382.25 135.56,380.78 136.59,378.56 137.30,376.65 138.01,375.00 138.93,373.82 140.06,372.35 140.76,370.79 141.86,368.77 142.80,367.23 143.60,365.58 144.73,364.34 145.78,362.16 146.99,361.43 148.13,360.23 149.09,358.60 150.64,356.48 151.72,355.99 152.81,354.49 154.68,352.40 155.94,350.52 157.85,349.11 159.22,347.74 161.09,346.13 162.29,345.49 164.82,343.97 167.51,342.96 168.92,343.18 170.79,341.99 172.89,341.55 174.68,341.22 176.11,342.05 177.92,343.40 179.56,344.31 181.76,344.92 184.29,345.08 185.39,346.63 186.29,349.07 187.78,351.05 189.64,352.12 191.03,352.38 192.10,354.21 193.44,356.34 194.31,358.99 195.12,360.66 196.02,362.08 196.78,364.04 197.76,365.13 199.00,367.30 199.96,368.69 201.23,370.48 202.21,372.55 202.75,374.26 203.58,375.97 204.62,377.80 205.45,379.25 206.43,381.37 207.33,382.93 208.27,383.80 209.05,386.18 210.32,387.07 211.47,388.98 212.55,389.85 213.31,391.13 214.15,393.31 214.90,394.95 216.59,396.74 218.16,398.53 219.03,399.98 219.96,401.48 220.89,402.28 221.92,404.69 222.95,406.31 223.59,407.13 223.90,408.92 224.64,411.02 225.21,413.13 226.85,414.49 228.33,415.85 229.52,417.73 230.47,418.67 231.75,420.71 232.62,422.26 233.37,424.84 234.48,426.03 236.06,427.12 237.14,429.12 238.29,430.56 239.50,431.15 240.46,433.14 242.15,434.39 243.32,435.89 244.77,437.84 245.97,439.69 247.14,441.35 248.75,442.82 249.84,443.45 251.11,445.50 252.55,446.26 253.91,447.92 255.47,448.84 257.32,450.65 258.76,451.21 260.69,453.25 261.88,454.22 263.38,455.56 264.40,456.52 265.79,458.39 267.14,460.09 268.59,460.90 269.92,462.41 271.23,463.64 272.51,464.99 274.65,465.96 276.50,467.60" fill="none" stroke="#e3d02a" stroke-width="1.8" stroke-linejoin="round" stroke-linecap="round" />
<polyline points="54.43,473.98 56.39,473.29 58.17,473.26 60.21,472.55 61.96,472.04 64.03,472.08 65.66,471.52 67.62,472.25 69.61,471.70 71.41,471.68 73.36,471.15 74.72,470.35 76.66,469.38 78.51,469.14 80.01,468.94 82.08,468.38 84.14,467.98 85.85,467.06 87.88,466.97 89.82,466.53 91.46,465.12 93.40,464.10 95.58,463.56 97.18,462.63 98.71,460.27 100.11,458.80 101.49,457.27 102.44,455.96 103.96,455.15 104.68,452.34 105.47,450.87 106.16,449.04 107.35,446.97 108.69,444.88 110.21,442.74 110.79,440.87 111.62,439.89 112.46,438.11 113.47,436.54 114.51,434.61 115.45,432.10 116.10,430.66 117.07,429.19 118.17,427.46 119.09,425.62 119.74,423.61 120.81,422.15 121.54,419.84 122.55,417.90 123.57,415.85 124.37,414.58 125.07,412.88 126.09,411.51 127.17,409.30 128.06,407.82 128.65,405.96 129.55,404.37 130.11,401.95 130.47,400.47 131.07,398.82 131.83,397.13 132.34,394.78 133.30,393.28 133.79,391.27 134.53,389.46 135.29,387.16 136.21,385.92 136.83,383.54 137.31,382.31 138.30,380.51 138.75,378.86 139.61,376.76 140.60,375.16 141.59,373.82 142.69,371.43 143.47,370.67 144.47,368.59 145.52,366.30 146.45,365.28 147.32,363.25 148.29,361.37 149.21,359.83 150.21,358.62 150.82,356.75 151.60,354.68 152.32,353.23 153.40,351.30 153.92,349.55 155.69,347.47 157.69,345.12 159.27,344.43 160.95,342.20 162.64,340.64 163.87,339.04 164.71,338.02 165.91,335.58 167.42,333.78 169.72,333.69 172.14,332.23 174.01,331.26 175.73,329.54 177.57,329.90 179.82,331.12 181.63,330.67 183.98,331.72 186.27,332.09 188.82,333.14 190.41,334.58 191.88,336.12 193.07,337.21 194.31,338.02 195.30,339.97 196.68,340.96 197.95,342.27 198.90,343.57 199.98,345.87 201.18,346.49 202.18,348.46 203.35,350.43 204.41,352.11 205.80,353.75 206.84,354.63 207.88,356.94 208.94,358.07 210.40,360.62 211.56,362.27 212.34,363.91 213.33,365.16 214.13,366.18 214.90,368.02 215.98,369.48 217.33,371.68 218.36,373.73 219.25,375.42 220.70,376.44 221.49,378.76 222.97,380.48 223.91,381.99 224.93,383.31 226.21,385.57 227.22,387.47 228.34,389.22 229.58,390.75 231.24,392.70 232.49,394.22 233.11,396.17 233.73,398.02 234.64,398.92 235.49,401.00 236.17,402.39 237.21,403.88 238.57,406.12 239.60,407.43 240.74,408.74 241.61,409.69 242.57,411.47 243.65,413.14 244.76,414.43 245.92,415.94 246.75,417.21 247.98,418.83 248.98,421.34 249.85,423.01 251.28,424.52 252.58,425.84 253.98,426.76 254.91,429.01 255.88,430.93 257.08,432.90 258.04,434.01 259.99,435.24 262.09,435.25 263.08,437.97 264.49,439.33 265.92,440.64 267.17,442.47 268.74,443.76 269.98,444.83 271.27,446.49 272.61,448.12 274.32,449.46 276.55,449.94 277.78,451.52 278.98,454.10 280.49,455.90 281.93,455.74 283.70,456.85 285.52,457.30 287.10,458.20" fill="none" stroke="#ee7a1e" stroke-width="1.8" stroke-linejoin="round" stroke-linecap="round" />
<polyline points="54.40,475.39 56.11,475.72 57.91,475.60 59.86,475.10 62.02,475.69 64.12,475.60 66.29,476.11 67.85,474.58 70.10,474.35 71.63,473.42 73.79,472.74 75.36,472.65 77.08,471.99 79.06,471.50 80.64,470.68 82.22,470.05 84.13,468.93 85.83,468.04 87.47,466.93 89.16,464.84 90.19,464.53 91.47,463.00 93.04,460.83 94.41,459.41 95.85,458.38 97.24,457.69 98.24,455.79 99.55,453.98 100.82,451.03 102.23,449.79 103.69,447.11 104.88,444.96 105.96,442.99 106.93,440.72 108.16,438.72 108.86,437.62 109.92,435.93 111.14,433.36 111.93,431.06 112.96,429.52 113.53,427.31 114.28,426.16 115.04,423.89 116.05,421.94 116.80,419.89 117.26,418.55 118.17,416.47 118.49,415.05 119.07,412.44 119.86,411.36 120.43,408.77 121.21,407.02 121.53,406.14 122.45,404.20 122.85,402.63 123.72,400.02 124.61,399.35 125.00,397.15 126.28,395.42 126.91,394.31 127.87,392.55 128.96,390.39 129.37,387.76 129.84,386.29 130.23,384.37 130.63,382.07 131.38,380.35 131.71,379.31 132.58,377.26 133.19,374.97 133.87,374.01 134.53,372.38 135.23,370.65 135.86,368.44 136.51,366.31 137.36,364.75 138.04,362.79 138.62,361.10 139.55,359.04 140.01,358.09 140.76,355.63 141.62,353.67 143.04,351.77 144.97,350.89 145.50,348.54 146.33,346.58 146.59,345.49 147.22,343.62 147.84,341.97 148.75,340.08 149.10,338.54 150.52,336.31 151.55,335.06 152.90,333.35 153.72,331.38 154.58,329.54 155.03,327.29 155.74,325.49 157.87,324.31 159.47,323.51 161.51,321.89 162.79,320.21 164.50,318.93 166.03,317.68 168.39,317.27 170.95,315.94 172.94,316.32 175.08,315.88 177.45,317.21 179.53,318.60 181.41,319.64 182.79,321.43 184.07,323.36 185.02,325.58 187.39,327.19 189.81,328.07 191.64,330.24 193.02,332.06 194.15,333.95 195.68,336.23 196.72,337.09 197.69,338.87 198.87,341.05 199.84,342.59 201.14,344.48 202.44,345.89 203.27,347.35 204.12,349.35 204.86,350.82 205.98,352.05 206.79,354.36 207.68,355.64 208.51,357.97 209.41,359.76 210.22,361.59 210.88,363.73 211.27,365.45 211.94,367.60 212.79,368.39 213.59,370.21 214.23,372.37 215.48,373.86 216.26,375.65 217.12,376.89 218.30,378.63 219.52,379.55 220.37,381.35 221.41,382.84 222.41,385.08 223.21,386.44 224.09,387.76 224.99,389.41 225.88,391.69 226.45,392.93 227.44,394.96 228.79,396.66 230.17,399.12 231.03,401.20 232.17,402.62 233.09,404.38 234.03,405.89 235.44,407.48 236.44,409.93 237.89,411.23 239.31,413.09 240.52,414.80 241.71,416.56 243.17,417.99 244.49,419.80 245.85,421.31 246.82,423.39 248.02,424.52 249.01,427.16 249.78,428.16 251.86,430.54 253.27,431.87 255.39,432.84 256.22,434.88 257.13,437.11 257.89,438.69 259.97,439.62 261.81,439.20 263.04,440.76 264.77,442.62 266.05,443.95 267.04,444.87 268.46,446.85 269.54,448.27 270.47,449.67 271.62,450.76 272.29,452.09 274.29,451.75 276.54,451.45 277.69,453.02 279.04,455.25 280.44,457.49 282.44,457.60 284.68,459.21 287.10,459.60" fill="none" stroke="#ec0a80" stroke-width="1.8" stroke-linejoin="round" stroke-linecap="round" />
<polyline points="54.26,476.42 56.26,476.66 57.56,477.32 58.92,477.60 60.90,478.59 62.35,478.01 64.22,479.42 66.58,478.28 68.69,480.53 70.14,479.61 71.47,478.19 73.48,478.06 74.93,478.20 76.52,478.43 78.73,479.46 80.67,479.33 82.52,479.65 84.37,479.16 86.52,480.27 88.11,479.38 89.41,478.10 91.11,477.46 93.21,477.80 95.00,478.09 96.81,479.33 97.76,478.38 100.21,479.22 101.98,479.39 102.99,480.14 105.29,479.71 106.47,480.12 108.90,481.25 109.96,480.51 111.68,480.42 113.95,480.40 115.48,480.68 116.90,480.99 118.56,480.56 120.26,479.86 122.06,479.30 124.38,480.11 125.59,479.77 127.27,478.29 129.53,478.28 130.68,478.48 132.62,476.62 134.92,476.36 136.39,475.45 138.07,476.07 139.94,476.17 141.79,475.94 144.00,476.07 145.44,476.90 146.87,475.54 149.19,476.94 150.41,475.75 152.55,477.31 153.86,477.40 156.12,476.62 157.47,475.54 158.87,477.17 160.75,476.57 162.48,476.72 164.46,475.57 165.84,476.34 167.54,475.60 169.71,477.08 171.53,476.18 173.55,476.27 174.61,476.64 176.62,476.52 178.07,477.44 180.06,477.26 181.49,478.56 183.58,477.86 184.95,477.49 186.11,476.17 187.64,477.76 189.82,477.71 190.90,476.90 192.90,476.93 194.40,477.31 195.83,476.25 197.99,476.80 199.62,476.16 201.29,476.34 202.57,475.64 204.63,475.77 205.88,475.37 207.86,474.69 209.30,474.06 211.17,474.68 212.66,474.91 215.29,475.56 216.95,474.58 218.82,474.96 220.45,475.48 222.07,475.87 223.92,476.14 226.18,475.96 228.12,476.39 229.81,477.14 231.28,475.22 233.08,476.46 234.76,475.34 236.99,476.28 238.29,476.69 239.86,476.20 241.43,475.68 243.58,476.61 245.30,475.50 246.73,475.32 248.04,475.64 250.27,476.30 251.84,476.50 253.15,474.94 254.96,475.15 256.44,475.43 258.43,475.59 259.85,476.28 262.05,475.50 262.99,474.66 265.30,474.68 266.83,475.74 268.18,476.18 269.62,474.87 271.71,474.58 273.76,474.93 274.96,474.48 277.10,475.21 278.85,475.56 280.75,476.10 282.40,474.51 283.98,474.40 285.36,474.91 287.50,474.90" fill="none" stroke="#000" stroke-width="1.7" stroke-linejoin="round" stroke-linecap="round" />
<rect x="438.00" y="295.00" width="235.90" height="189.20" fill="none" stroke="#000" stroke-width="1.8"/>
<line x1="438.00" y1="484.20" x2="438.00" y2="488.60" stroke="#000" stroke-width="1.4" />
<line x1="438.00" y1="295.00" x2="438.00" y2="299.00" stroke="#000" stroke-width="1.4" />
<line x1="445.10" y1="484.20" x2="445.10" y2="486.50" stroke="#000" stroke-width="1.1" />
<line x1="445.10" y1="295.00" x2="445.10" y2="297.00" stroke="#000" stroke-width="1.1" />
<line x1="449.26" y1="484.20" x2="449.26" y2="486.50" stroke="#000" stroke-width="1.1" />
<line x1="449.26" y1="295.00" x2="449.26" y2="297.00" stroke="#000" stroke-width="1.1" />
<line x1="452.20" y1="484.20" x2="452.20" y2="486.50" stroke="#000" stroke-width="1.1" />
<line x1="452.20" y1="295.00" x2="452.20" y2="297.00" stroke="#000" stroke-width="1.1" />
<line x1="454.49" y1="484.20" x2="454.49" y2="486.50" stroke="#000" stroke-width="1.1" />
<line x1="454.49" y1="295.00" x2="454.49" y2="297.00" stroke="#000" stroke-width="1.1" />
<line x1="456.36" y1="484.20" x2="456.36" y2="486.50" stroke="#000" stroke-width="1.1" />
<line x1="456.36" y1="295.00" x2="456.36" y2="297.00" stroke="#000" stroke-width="1.1" />
<line x1="457.94" y1="484.20" x2="457.94" y2="486.50" stroke="#000" stroke-width="1.1" />
<line x1="457.94" y1="295.00" x2="457.94" y2="297.00" stroke="#000" stroke-width="1.1" />
<line x1="459.30" y1="484.20" x2="459.30" y2="486.50" stroke="#000" stroke-width="1.1" />
<line x1="459.30" y1="295.00" x2="459.30" y2="297.00" stroke="#000" stroke-width="1.1" />
<line x1="460.51" y1="484.20" x2="460.51" y2="486.50" stroke="#000" stroke-width="1.1" />
<line x1="460.51" y1="295.00" x2="460.51" y2="297.00" stroke="#000" stroke-width="1.1" />
<line x1="461.59" y1="484.20" x2="461.59" y2="488.60" stroke="#000" stroke-width="1.4" />
<line x1="461.59" y1="295.00" x2="461.59" y2="299.00" stroke="#000" stroke-width="1.4" />
<line x1="468.69" y1="484.20" x2="468.69" y2="486.50" stroke="#000" stroke-width="1.1" />
<line x1="468.69" y1="295.00" x2="468.69" y2="297.00" stroke="#000" stroke-width="1.1" />
<line x1="472.85" y1="484.20" x2="472.85" y2="486.50" stroke="#000" stroke-width="1.1" />
<line x1="472.85" y1="295.00" x2="472.85" y2="297.00" stroke="#000" stroke-width="1.1" />
<line x1="475.79" y1="484.20" x2="475.79" y2="486.50" stroke="#000" stroke-width="1.1" />
<line x1="475.79" y1="295.00" x2="475.79" y2="297.00" stroke="#000" stroke-width="1.1" />
<line x1="478.08" y1="484.20" x2="478.08" y2="486.50" stroke="#000" stroke-width="1.1" />
<line x1="478.08" y1="295.00" x2="478.08" y2="297.00" stroke="#000" stroke-width="1.1" />
<line x1="479.95" y1="484.20" x2="479.95" y2="486.50" stroke="#000" stroke-width="1.1" />
<line x1="479.95" y1="295.00" x2="479.95" y2="297.00" stroke="#000" stroke-width="1.1" />
<line x1="481.53" y1="484.20" x2="481.53" y2="486.50" stroke="#000" stroke-width="1.1" />
<line x1="481.53" y1="295.00" x2="481.53" y2="297.00" stroke="#000" stroke-width="1.1" />
<line x1="482.89" y1="484.20" x2="482.89" y2="486.50" stroke="#000" stroke-width="1.1" />
<line x1="482.89" y1="295.00" x2="482.89" y2="297.00" stroke="#000" stroke-width="1.1" />
<line x1="484.10" y1="484.20" x2="484.10" y2="486.50" stroke="#000" stroke-width="1.1" />
<line x1="484.10" y1="295.00" x2="484.10" y2="297.00" stroke="#000" stroke-width="1.1" />
<line x1="485.18" y1="484.20" x2="485.18" y2="488.60" stroke="#000" stroke-width="1.4" />
<line x1="485.18" y1="295.00" x2="485.18" y2="299.00" stroke="#000" stroke-width="1.4" />
<line x1="492.28" y1="484.20" x2="492.28" y2="486.50" stroke="#000" stroke-width="1.1" />
<line x1="492.28" y1="295.00" x2="492.28" y2="297.00" stroke="#000" stroke-width="1.1" />
<line x1="496.44" y1="484.20" x2="496.44" y2="486.50" stroke="#000" stroke-width="1.1" />
<line x1="496.44" y1="295.00" x2="496.44" y2="297.00" stroke="#000" stroke-width="1.1" />
<line x1="499.38" y1="484.20" x2="499.38" y2="486.50" stroke="#000" stroke-width="1.1" />
<line x1="499.38" y1="295.00" x2="499.38" y2="297.00" stroke="#000" stroke-width="1.1" />
<line x1="501.67" y1="484.20" x2="501.67" y2="486.50" stroke="#000" stroke-width="1.1" />
<line x1="501.67" y1="295.00" x2="501.67" y2="297.00" stroke="#000" stroke-width="1.1" />
<line x1="503.54" y1="484.20" x2="503.54" y2="486.50" stroke="#000" stroke-width="1.1" />
<line x1="503.54" y1="295.00" x2="503.54" y2="297.00" stroke="#000" stroke-width="1.1" />
<line x1="505.12" y1="484.20" x2="505.12" y2="486.50" stroke="#000" stroke-width="1.1" />
<line x1="505.12" y1="295.00" x2="505.12" y2="297.00" stroke="#000" stroke-width="1.1" />
<line x1="506.48" y1="484.20" x2="506.48" y2="486.50" stroke="#000" stroke-width="1.1" />
<line x1="506.48" y1="295.00" x2="506.48" y2="297.00" stroke="#000" stroke-width="1.1" />
<line x1="507.69" y1="484.20" x2="507.69" y2="486.50" stroke="#000" stroke-width="1.1" />
<line x1="507.69" y1="295.00" x2="507.69" y2="297.00" stroke="#000" stroke-width="1.1" />
<line x1="508.77" y1="484.20" x2="508.77" y2="488.60" stroke="#000" stroke-width="1.4" />
<line x1="508.77" y1="295.00" x2="508.77" y2="299.00" stroke="#000" stroke-width="1.4" />
<line x1="515.87" y1="484.20" x2="515.87" y2="486.50" stroke="#000" stroke-width="1.1" />
<line x1="515.87" y1="295.00" x2="515.87" y2="297.00" stroke="#000" stroke-width="1.1" />
<line x1="520.03" y1="484.20" x2="520.03" y2="486.50" stroke="#000" stroke-width="1.1" />
<line x1="520.03" y1="295.00" x2="520.03" y2="297.00" stroke="#000" stroke-width="1.1" />
<line x1="522.97" y1="484.20" x2="522.97" y2="486.50" stroke="#000" stroke-width="1.1" />
<line x1="522.97" y1="295.00" x2="522.97" y2="297.00" stroke="#000" stroke-width="1.1" />
<line x1="525.26" y1="484.20" x2="525.26" y2="486.50" stroke="#000" stroke-width="1.1" />
<line x1="525.26" y1="295.00" x2="525.26" y2="297.00" stroke="#000" stroke-width="1.1" />
<line x1="527.13" y1="484.20" x2="527.13" y2="486.50" stroke="#000" stroke-width="1.1" />
<line x1="527.13" y1="295.00" x2="527.13" y2="297.00" stroke="#000" stroke-width="1.1" />
<line x1="528.71" y1="484.20" x2="528.71" y2="486.50" stroke="#000" stroke-width="1.1" />
<line x1="528.71" y1="295.00" x2="528.71" y2="297.00" stroke="#000" stroke-width="1.1" />
<line x1="530.07" y1="484.20" x2="530.07" y2="486.50" stroke="#000" stroke-width="1.1" />
<line x1="530.07" y1="295.00" x2="530.07" y2="297.00" stroke="#000" stroke-width="1.1" />
<line x1="531.28" y1="484.20" x2="531.28" y2="486.50" stroke="#000" stroke-width="1.1" />
<line x1="531.28" y1="295.00" x2="531.28" y2="297.00" stroke="#000" stroke-width="1.1" />
<line x1="532.36" y1="484.20" x2="532.36" y2="488.60" stroke="#000" stroke-width="1.4" />
<line x1="532.36" y1="295.00" x2="532.36" y2="299.00" stroke="#000" stroke-width="1.4" />
<line x1="539.46" y1="484.20" x2="539.46" y2="486.50" stroke="#000" stroke-width="1.1" />
<line x1="539.46" y1="295.00" x2="539.46" y2="297.00" stroke="#000" stroke-width="1.1" />
<line x1="543.62" y1="484.20" x2="543.62" y2="486.50" stroke="#000" stroke-width="1.1" />
<line x1="543.62" y1="295.00" x2="543.62" y2="297.00" stroke="#000" stroke-width="1.1" />
<line x1="546.56" y1="484.20" x2="546.56" y2="486.50" stroke="#000" stroke-width="1.1" />
<line x1="546.56" y1="295.00" x2="546.56" y2="297.00" stroke="#000" stroke-width="1.1" />
<line x1="548.85" y1="484.20" x2="548.85" y2="486.50" stroke="#000" stroke-width="1.1" />
<line x1="548.85" y1="295.00" x2="548.85" y2="297.00" stroke="#000" stroke-width="1.1" />
<line x1="550.72" y1="484.20" x2="550.72" y2="486.50" stroke="#000" stroke-width="1.1" />
<line x1="550.72" y1="295.00" x2="550.72" y2="297.00" stroke="#000" stroke-width="1.1" />
<line x1="552.30" y1="484.20" x2="552.30" y2="486.50" stroke="#000" stroke-width="1.1" />
<line x1="552.30" y1="295.00" x2="552.30" y2="297.00" stroke="#000" stroke-width="1.1" />
<line x1="553.66" y1="484.20" x2="553.66" y2="486.50" stroke="#000" stroke-width="1.1" />
<line x1="553.66" y1="295.00" x2="553.66" y2="297.00" stroke="#000" stroke-width="1.1" />
<line x1="554.87" y1="484.20" x2="554.87" y2="486.50" stroke="#000" stroke-width="1.1" />
<line x1="554.87" y1="295.00" x2="554.87" y2="297.00" stroke="#000" stroke-width="1.1" />
<line x1="555.95" y1="484.20" x2="555.95" y2="488.60" stroke="#000" stroke-width="1.4" />
<line x1="555.95" y1="295.00" x2="555.95" y2="299.00" stroke="#000" stroke-width="1.4" />
<line x1="563.05" y1="484.20" x2="563.05" y2="486.50" stroke="#000" stroke-width="1.1" />
<line x1="563.05" y1="295.00" x2="563.05" y2="297.00" stroke="#000" stroke-width="1.1" />
<line x1="567.21" y1="484.20" x2="567.21" y2="486.50" stroke="#000" stroke-width="1.1" />
<line x1="567.21" y1="295.00" x2="567.21" y2="297.00" stroke="#000" stroke-width="1.1" />
<line x1="570.15" y1="484.20" x2="570.15" y2="486.50" stroke="#000" stroke-width="1.1" />
<line x1="570.15" y1="295.00" x2="570.15" y2="297.00" stroke="#000" stroke-width="1.1" />
<line x1="572.44" y1="484.20" x2="572.44" y2="486.50" stroke="#000" stroke-width="1.1" />
<line x1="572.44" y1="295.00" x2="572.44" y2="297.00" stroke="#000" stroke-width="1.1" />
<line x1="574.31" y1="484.20" x2="574.31" y2="486.50" stroke="#000" stroke-width="1.1" />
<line x1="574.31" y1="295.00" x2="574.31" y2="297.00" stroke="#000" stroke-width="1.1" />
<line x1="575.89" y1="484.20" x2="575.89" y2="486.50" stroke="#000" stroke-width="1.1" />
<line x1="575.89" y1="295.00" x2="575.89" y2="297.00" stroke="#000" stroke-width="1.1" />
<line x1="577.25" y1="484.20" x2="577.25" y2="486.50" stroke="#000" stroke-width="1.1" />
<line x1="577.25" y1="295.00" x2="577.25" y2="297.00" stroke="#000" stroke-width="1.1" />
<line x1="578.46" y1="484.20" x2="578.46" y2="486.50" stroke="#000" stroke-width="1.1" />
<line x1="578.46" y1="295.00" x2="578.46" y2="297.00" stroke="#000" stroke-width="1.1" />
<line x1="579.54" y1="484.20" x2="579.54" y2="488.60" stroke="#000" stroke-width="1.4" />
<line x1="579.54" y1="295.00" x2="579.54" y2="299.00" stroke="#000" stroke-width="1.4" />
<line x1="586.64" y1="484.20" x2="586.64" y2="486.50" stroke="#000" stroke-width="1.1" />
<line x1="586.64" y1="295.00" x2="586.64" y2="297.00" stroke="#000" stroke-width="1.1" />
<line x1="590.80" y1="484.20" x2="590.80" y2="486.50" stroke="#000" stroke-width="1.1" />
<line x1="590.80" y1="295.00" x2="590.80" y2="297.00" stroke="#000" stroke-width="1.1" />
<line x1="593.74" y1="484.20" x2="593.74" y2="486.50" stroke="#000" stroke-width="1.1" />
<line x1="593.74" y1="295.00" x2="593.74" y2="297.00" stroke="#000" stroke-width="1.1" />
<line x1="596.03" y1="484.20" x2="596.03" y2="486.50" stroke="#000" stroke-width="1.1" />
<line x1="596.03" y1="295.00" x2="596.03" y2="297.00" stroke="#000" stroke-width="1.1" />
<line x1="597.90" y1="484.20" x2="597.90" y2="486.50" stroke="#000" stroke-width="1.1" />
<line x1="597.90" y1="295.00" x2="597.90" y2="297.00" stroke="#000" stroke-width="1.1" />
<line x1="599.48" y1="484.20" x2="599.48" y2="486.50" stroke="#000" stroke-width="1.1" />
<line x1="599.48" y1="295.00" x2="599.48" y2="297.00" stroke="#000" stroke-width="1.1" />
<line x1="600.84" y1="484.20" x2="600.84" y2="486.50" stroke="#000" stroke-width="1.1" />
<line x1="600.84" y1="295.00" x2="600.84" y2="297.00" stroke="#000" stroke-width="1.1" />
<line x1="602.05" y1="484.20" x2="602.05" y2="486.50" stroke="#000" stroke-width="1.1" />
<line x1="602.05" y1="295.00" x2="602.05" y2="297.00" stroke="#000" stroke-width="1.1" />
<line x1="603.13" y1="484.20" x2="603.13" y2="488.60" stroke="#000" stroke-width="1.4" />
<line x1="603.13" y1="295.00" x2="603.13" y2="299.00" stroke="#000" stroke-width="1.4" />
<line x1="610.23" y1="484.20" x2="610.23" y2="486.50" stroke="#000" stroke-width="1.1" />
<line x1="610.23" y1="295.00" x2="610.23" y2="297.00" stroke="#000" stroke-width="1.1" />
<line x1="614.39" y1="484.20" x2="614.39" y2="486.50" stroke="#000" stroke-width="1.1" />
<line x1="614.39" y1="295.00" x2="614.39" y2="297.00" stroke="#000" stroke-width="1.1" />
<line x1="617.33" y1="484.20" x2="617.33" y2="486.50" stroke="#000" stroke-width="1.1" />
<line x1="617.33" y1="295.00" x2="617.33" y2="297.00" stroke="#000" stroke-width="1.1" />
<line x1="619.62" y1="484.20" x2="619.62" y2="486.50" stroke="#000" stroke-width="1.1" />
<line x1="619.62" y1="295.00" x2="619.62" y2="297.00" stroke="#000" stroke-width="1.1" />
<line x1="621.49" y1="484.20" x2="621.49" y2="486.50" stroke="#000" stroke-width="1.1" />
<line x1="621.49" y1="295.00" x2="621.49" y2="297.00" stroke="#000" stroke-width="1.1" />
<line x1="623.07" y1="484.20" x2="623.07" y2="486.50" stroke="#000" stroke-width="1.1" />
<line x1="623.07" y1="295.00" x2="623.07" y2="297.00" stroke="#000" stroke-width="1.1" />
<line x1="624.43" y1="484.20" x2="624.43" y2="486.50" stroke="#000" stroke-width="1.1" />
<line x1="624.43" y1="295.00" x2="624.43" y2="297.00" stroke="#000" stroke-width="1.1" />
<line x1="625.64" y1="484.20" x2="625.64" y2="486.50" stroke="#000" stroke-width="1.1" />
<line x1="625.64" y1="295.00" x2="625.64" y2="297.00" stroke="#000" stroke-width="1.1" />
<line x1="626.72" y1="484.20" x2="626.72" y2="488.60" stroke="#000" stroke-width="1.4" />
<line x1="626.72" y1="295.00" x2="626.72" y2="299.00" stroke="#000" stroke-width="1.4" />
<line x1="633.82" y1="484.20" x2="633.82" y2="486.50" stroke="#000" stroke-width="1.1" />
<line x1="633.82" y1="295.00" x2="633.82" y2="297.00" stroke="#000" stroke-width="1.1" />
<line x1="637.98" y1="484.20" x2="637.98" y2="486.50" stroke="#000" stroke-width="1.1" />
<line x1="637.98" y1="295.00" x2="637.98" y2="297.00" stroke="#000" stroke-width="1.1" />
<line x1="640.92" y1="484.20" x2="640.92" y2="486.50" stroke="#000" stroke-width="1.1" />
<line x1="640.92" y1="295.00" x2="640.92" y2="297.00" stroke="#000" stroke-width="1.1" />
<line x1="643.21" y1="484.20" x2="643.21" y2="486.50" stroke="#000" stroke-width="1.1" />
<line x1="643.21" y1="295.00" x2="643.21" y2="297.00" stroke="#000" stroke-width="1.1" />
<line x1="645.08" y1="484.20" x2="645.08" y2="486.50" stroke="#000" stroke-width="1.1" />
<line x1="645.08" y1="295.00" x2="645.08" y2="297.00" stroke="#000" stroke-width="1.1" />
<line x1="646.66" y1="484.20" x2="646.66" y2="486.50" stroke="#000" stroke-width="1.1" />
<line x1="646.66" y1="295.00" x2="646.66" y2="297.00" stroke="#000" stroke-width="1.1" />
<line x1="648.02" y1="484.20" x2="648.02" y2="486.50" stroke="#000" stroke-width="1.1" />
<line x1="648.02" y1="295.00" x2="648.02" y2="297.00" stroke="#000" stroke-width="1.1" />
<line x1="649.23" y1="484.20" x2="649.23" y2="486.50" stroke="#000" stroke-width="1.1" />
<line x1="649.23" y1="295.00" x2="649.23" y2="297.00" stroke="#000" stroke-width="1.1" />
<line x1="650.31" y1="484.20" x2="650.31" y2="488.60" stroke="#000" stroke-width="1.4" />
<line x1="650.31" y1="295.00" x2="650.31" y2="299.00" stroke="#000" stroke-width="1.4" />
<line x1="657.41" y1="484.20" x2="657.41" y2="486.50" stroke="#000" stroke-width="1.1" />
<line x1="657.41" y1="295.00" x2="657.41" y2="297.00" stroke="#000" stroke-width="1.1" />
<line x1="661.57" y1="484.20" x2="661.57" y2="486.50" stroke="#000" stroke-width="1.1" />
<line x1="661.57" y1="295.00" x2="661.57" y2="297.00" stroke="#000" stroke-width="1.1" />
<line x1="664.51" y1="484.20" x2="664.51" y2="486.50" stroke="#000" stroke-width="1.1" />
<line x1="664.51" y1="295.00" x2="664.51" y2="297.00" stroke="#000" stroke-width="1.1" />
<line x1="666.80" y1="484.20" x2="666.80" y2="486.50" stroke="#000" stroke-width="1.1" />
<line x1="666.80" y1="295.00" x2="666.80" y2="297.00" stroke="#000" stroke-width="1.1" />
<line x1="668.67" y1="484.20" x2="668.67" y2="486.50" stroke="#000" stroke-width="1.1" />
<line x1="668.67" y1="295.00" x2="668.67" y2="297.00" stroke="#000" stroke-width="1.1" />
<line x1="670.25" y1="484.20" x2="670.25" y2="486.50" stroke="#000" stroke-width="1.1" />
<line x1="670.25" y1="295.00" x2="670.25" y2="297.00" stroke="#000" stroke-width="1.1" />
<line x1="671.61" y1="484.20" x2="671.61" y2="486.50" stroke="#000" stroke-width="1.1" />
<line x1="671.61" y1="295.00" x2="671.61" y2="297.00" stroke="#000" stroke-width="1.1" />
<line x1="672.82" y1="484.20" x2="672.82" y2="486.50" stroke="#000" stroke-width="1.1" />
<line x1="672.82" y1="295.00" x2="672.82" y2="297.00" stroke="#000" stroke-width="1.1" />
<line x1="673.90" y1="484.20" x2="673.90" y2="488.60" stroke="#000" stroke-width="1.4" />
<line x1="673.90" y1="295.00" x2="673.90" y2="299.00" stroke="#000" stroke-width="1.4" />
<line x1="433.60" y1="483.80" x2="438.00" y2="483.80" stroke="#000" stroke-width="1.4" />
<line x1="673.90" y1="483.80" x2="669.50" y2="483.80" stroke="#000" stroke-width="1.4" />
<line x1="435.80" y1="469.30" x2="438.00" y2="469.30" stroke="#000" stroke-width="1.4" />
<line x1="673.90" y1="469.30" x2="671.70" y2="469.30" stroke="#000" stroke-width="1.4" />
<line x1="433.60" y1="454.80" x2="438.00" y2="454.80" stroke="#000" stroke-width="1.4" />
<line x1="673.90" y1="454.80" x2="669.50" y2="454.80" stroke="#000" stroke-width="1.4" />
<line x1="435.80" y1="440.30" x2="438.00" y2="440.30" stroke="#000" stroke-width="1.4" />
<line x1="673.90" y1="440.30" x2="671.70" y2="440.30" stroke="#000" stroke-width="1.4" />
<line x1="433.60" y1="425.80" x2="438.00" y2="425.80" stroke="#000" stroke-width="1.4" />
<line x1="673.90" y1="425.80" x2="669.50" y2="425.80" stroke="#000" stroke-width="1.4" />
<line x1="435.80" y1="411.30" x2="438.00" y2="411.30" stroke="#000" stroke-width="1.4" />
<line x1="673.90" y1="411.30" x2="671.70" y2="411.30" stroke="#000" stroke-width="1.4" />
<line x1="433.60" y1="396.80" x2="438.00" y2="396.80" stroke="#000" stroke-width="1.4" />
<line x1="673.90" y1="396.80" x2="669.50" y2="396.80" stroke="#000" stroke-width="1.4" />
<line x1="435.80" y1="382.30" x2="438.00" y2="382.30" stroke="#000" stroke-width="1.4" />
<line x1="673.90" y1="382.30" x2="671.70" y2="382.30" stroke="#000" stroke-width="1.4" />
<line x1="433.60" y1="367.80" x2="438.00" y2="367.80" stroke="#000" stroke-width="1.4" />
<line x1="673.90" y1="367.80" x2="669.50" y2="367.80" stroke="#000" stroke-width="1.4" />
<line x1="435.80" y1="353.30" x2="438.00" y2="353.30" stroke="#000" stroke-width="1.4" />
<line x1="673.90" y1="353.30" x2="671.70" y2="353.30" stroke="#000" stroke-width="1.4" />
<line x1="433.60" y1="338.80" x2="438.00" y2="338.80" stroke="#000" stroke-width="1.4" />
<line x1="673.90" y1="338.80" x2="669.50" y2="338.80" stroke="#000" stroke-width="1.4" />
<line x1="435.80" y1="324.30" x2="438.00" y2="324.30" stroke="#000" stroke-width="1.4" />
<line x1="673.90" y1="324.30" x2="671.70" y2="324.30" stroke="#000" stroke-width="1.4" />
<line x1="433.60" y1="309.80" x2="438.00" y2="309.80" stroke="#000" stroke-width="1.4" />
<line x1="673.90" y1="309.80" x2="669.50" y2="309.80" stroke="#000" stroke-width="1.4" />
<line x1="435.80" y1="295.30" x2="438.00" y2="295.30" stroke="#000" stroke-width="1.4" />
<line x1="673.90" y1="295.30" x2="671.70" y2="295.30" stroke="#000" stroke-width="1.4" />
<text x="429.20" y="487.80" font-size="12" font-weight="bold" text-anchor="end" fill="#000" stroke="#000" stroke-width="0.15" textLength="22.8" lengthAdjust="spacingAndGlyphs" >−0.2</text>
<text x="429.20" y="458.80" font-size="12" font-weight="bold" text-anchor="end" fill="#000" stroke="#000" stroke-width="0.15" textLength="15.8" lengthAdjust="spacingAndGlyphs" >0.0</text>
<text x="429.20" y="429.80" font-size="12" font-weight="bold" text-anchor="end" fill="#000" stroke="#000" stroke-width="0.15" textLength="15.8" lengthAdjust="spacingAndGlyphs" >0.2</text>
<text x="429.20" y="400.80" font-size="12" font-weight="bold" text-anchor="end" fill="#000" stroke="#000" stroke-width="0.15" textLength="15.8" lengthAdjust="spacingAndGlyphs" >0.4</text>
<text x="429.20" y="371.80" font-size="12" font-weight="bold" text-anchor="end" fill="#000" stroke="#000" stroke-width="0.15" textLength="15.8" lengthAdjust="spacingAndGlyphs" >0.6</text>
<text x="429.20" y="342.80" font-size="12" font-weight="bold" text-anchor="end" fill="#000" stroke="#000" stroke-width="0.15" textLength="15.8" lengthAdjust="spacingAndGlyphs" >0.8</text>
<text x="429.20" y="313.80" font-size="12" font-weight="bold" text-anchor="end" fill="#000" stroke="#000" stroke-width="0.15" textLength="15.8" lengthAdjust="spacingAndGlyphs" >1.0</text>
<text x="424.45" y="503.70" font-size="11.5" font-weight="bold" text-anchor="start" fill="#000" stroke="#000" stroke-width="0.15" textLength="11.7" lengthAdjust="spacingAndGlyphs" >10</text>
<text x="436.65" y="499.00" font-size="8.2" font-weight="bold" text-anchor="start" fill="#000" stroke="#000" stroke-width="0.1" textLength="14.9" lengthAdjust="spacingAndGlyphs" >−12</text>
<text x="471.63" y="503.70" font-size="11.5" font-weight="bold" text-anchor="start" fill="#000" stroke="#000" stroke-width="0.15" textLength="11.7" lengthAdjust="spacingAndGlyphs" >10</text>
<text x="483.83" y="499.00" font-size="8.2" font-weight="bold" text-anchor="start" fill="#000" stroke="#000" stroke-width="0.1" textLength="14.9" lengthAdjust="spacingAndGlyphs" >−10</text>
<text x="521.11" y="503.70" font-size="11.5" font-weight="bold" text-anchor="start" fill="#000" stroke="#000" stroke-width="0.15" textLength="11.7" lengthAdjust="spacingAndGlyphs" >10</text>
<text x="533.31" y="499.00" font-size="8.2" font-weight="bold" text-anchor="start" fill="#000" stroke="#000" stroke-width="0.1" textLength="10.3" lengthAdjust="spacingAndGlyphs" >−8</text>
<text x="568.29" y="503.70" font-size="11.5" font-weight="bold" text-anchor="start" fill="#000" stroke="#000" stroke-width="0.15" textLength="11.7" lengthAdjust="spacingAndGlyphs" >10</text>
<text x="580.49" y="499.00" font-size="8.2" font-weight="bold" text-anchor="start" fill="#000" stroke="#000" stroke-width="0.1" textLength="10.3" lengthAdjust="spacingAndGlyphs" >−6</text>
<text x="615.47" y="503.70" font-size="11.5" font-weight="bold" text-anchor="start" fill="#000" stroke="#000" stroke-width="0.15" textLength="11.7" lengthAdjust="spacingAndGlyphs" >10</text>
<text x="627.67" y="499.00" font-size="8.2" font-weight="bold" text-anchor="start" fill="#000" stroke="#000" stroke-width="0.1" textLength="10.3" lengthAdjust="spacingAndGlyphs" >−4</text>
<text x="662.65" y="503.70" font-size="11.5" font-weight="bold" text-anchor="start" fill="#000" stroke="#000" stroke-width="0.15" textLength="11.7" lengthAdjust="spacingAndGlyphs" >10</text>
<text x="674.85" y="499.00" font-size="8.2" font-weight="bold" text-anchor="start" fill="#000" stroke="#000" stroke-width="0.1" textLength="10.3" lengthAdjust="spacingAndGlyphs" >−2</text>
<text x="556.10" y="526.30" font-size="15.4" font-weight="bold" text-anchor="middle" fill="#000" stroke="#000" stroke-width="0.3" textLength="136.8" lengthAdjust="spacingAndGlyphs" >Concentration (M)</text>
<text x="400.00" y="389.50" font-size="14.8" font-weight="bold" text-anchor="middle" fill="#000" stroke="#000" stroke-width="0.3" textLength="201.5" lengthAdjust="spacingAndGlyphs" transform="rotate(-90 400.00 389.50)" >Normalized Wavelength Shift</text>
<text x="383.50" y="282.50" font-size="26" font-weight="normal" text-anchor="start" fill="#000" stroke="#000" stroke-width="0.35" >d</text>
<line x1="438.60" y1="270.60" x2="447.60" y2="270.60" stroke="#000" stroke-width="2.2" stroke-linecap="round"/>
<line x1="459.20" y1="270.60" x2="467.80" y2="270.60" stroke="#000" stroke-width="2.2" stroke-linecap="round"/>
<circle cx="453.4" cy="270.6" r="3.9" fill="#000"/>
<line x1="438.60" y1="286.20" x2="443.80" y2="286.20" stroke="#000" stroke-width="2.2" stroke-linecap="round"/>
<line x1="458.60" y1="286.20" x2="463.40" y2="286.20" stroke="#000" stroke-width="2.2" stroke-linecap="round"/>
<circle cx="453.1" cy="286.2" r="3.0" fill="#fff" stroke="#000" stroke-width="1.6"/>
<text x="470.40" y="274.90" font-size="12.2" font-weight="bold" text-anchor="start" fill="#000" stroke="#000" stroke-width="0.15" textLength="102.2" lengthAdjust="spacingAndGlyphs" >Dynorphin A 1-13</text>
<text x="470.40" y="290.00" font-size="12.2" font-weight="bold" text-anchor="start" fill="#000" stroke="#000" stroke-width="0.15" textLength="110.9" lengthAdjust="spacingAndGlyphs" >[Leu-5] Enkephalin</text>
<polyline points="438.00,454.76 439.18,454.75 440.36,454.75 441.54,454.74 442.72,454.74 443.90,454.73 445.08,454.72 446.26,454.71 447.44,454.70 448.62,454.68 449.80,454.67 450.97,454.66 452.15,454.64 453.33,454.62 454.51,454.60 455.69,454.57 456.87,454.54 458.05,454.51 459.23,454.48 460.41,454.44 461.59,454.39 462.77,454.34 463.95,454.29 465.13,454.23 466.31,454.16 467.49,454.08 468.67,453.99 469.85,453.89 471.03,453.78 472.21,453.66 473.38,453.52 474.56,453.36 475.74,453.19 476.92,453.00 478.10,452.78 479.28,452.54 480.46,452.27 481.64,451.96 482.82,451.62 484.00,451.25 485.18,450.83 486.36,450.36 487.54,449.83 488.72,449.25 489.90,448.60 491.08,447.88 492.26,447.08 493.44,446.19 494.62,445.21 495.80,444.13 496.98,442.93 498.15,441.62 499.33,440.17 500.51,438.59 501.69,436.85 502.87,434.96 504.05,432.91 505.23,430.68 506.41,428.28 507.59,425.69 508.77,422.92 509.95,419.96 511.13,416.83 512.31,413.51 513.49,410.03 514.67,406.39 515.85,402.61 517.03,398.70 518.21,394.70 519.39,390.61 520.56,386.47 521.74,382.30 522.92,378.13 524.10,373.99 525.28,369.90 526.46,365.90 527.64,361.99 528.82,358.21 530.00,354.57 531.18,351.09 532.36,347.77 533.54,344.64 534.72,341.68 535.90,338.91 537.08,336.32 538.26,333.92 539.44,331.69 540.62,329.64 541.80,327.75 542.98,326.01 544.15,324.43 545.33,322.98 546.51,321.67 547.69,320.47 548.87,319.39 550.05,318.41 551.23,317.52 552.41,316.72 553.59,316.00 554.77,315.35 555.95,314.77 557.13,314.24 558.31,313.77 559.49,313.35 560.67,312.98 561.85,312.64 563.03,312.33 564.21,312.06 565.39,311.82 566.57,311.60 567.75,311.41 568.92,311.24 570.10,311.08 571.28,310.94 572.46,310.82 573.64,310.71 574.82,310.61 576.00,310.52 577.18,310.44 578.36,310.37 579.54,310.31 580.72,310.26 581.90,310.21 583.08,310.16 584.26,310.12 585.44,310.09 586.62,310.06 587.80,310.03 588.98,310.00 590.16,309.98 591.34,309.96 592.51,309.94 593.69,309.93 594.87,309.92 596.05,309.90 597.23,309.89 598.41,309.88 599.59,309.87 600.77,309.86 601.95,309.86 603.13,309.85 604.31,309.85 605.49,309.84 606.67,309.84 607.85,309.83 609.03,309.83 610.21,309.83 611.39,309.82 612.57,309.82 613.75,309.82 614.92,309.82 616.10,309.81 617.28,309.81 618.46,309.81 619.64,309.81 620.82,309.81 622.00,309.81 623.18,309.81 624.36,309.81 625.54,309.81 626.72,309.81 627.90,309.80 629.08,309.80 630.26,309.80 631.44,309.80 632.62,309.80 633.80,309.80 634.98,309.80 636.16,309.80 637.34,309.80 638.51,309.80 639.69,309.80 640.87,309.80 642.05,309.80 643.23,309.80 644.41,309.80 645.59,309.80 646.77,309.80 647.95,309.80 649.13,309.80 650.31,309.80 651.49,309.80 652.67,309.80 653.85,309.80 655.03,309.80 656.21,309.80 657.39,309.80 658.57,309.80 659.75,309.80 660.93,309.80 662.11,309.80 663.28,309.80 664.46,309.80 665.64,309.80 666.82,309.80 668.00,309.80 669.18,309.80 670.36,309.80 671.54,309.80 672.72,309.80 673.90,309.80" fill="none" stroke="#000" stroke-width="2.3" stroke-linejoin="round" stroke-linecap="round" />
<polyline points="485.18,451.25 486.36,451.08 487.54,450.91 488.72,450.74 489.90,450.55 491.08,450.36 492.26,450.15 493.44,449.94 494.62,449.72 495.80,449.49 496.98,449.25 498.15,449.00 499.33,448.74 500.51,448.46 501.69,448.18 502.87,447.88 504.05,447.57 505.23,447.25 506.41,446.91 507.59,446.56 508.77,446.19 509.95,445.81 511.13,445.42 512.31,445.01 513.49,444.58 514.67,444.13 515.85,443.67 517.03,443.18 518.21,442.68 519.39,442.16 520.56,441.62 521.74,441.06 522.92,440.47 524.10,439.87 525.28,439.24 526.46,438.59 527.64,437.91 528.82,437.21 530.00,436.49 531.18,435.74 532.36,434.96 533.54,434.16 534.72,433.33 535.90,432.48 537.08,431.59 538.26,430.68 539.44,429.74 540.62,428.77 541.80,427.77 542.98,426.75 544.15,425.69 545.33,424.60 546.51,423.49 547.69,422.34 548.87,421.17 550.05,419.96 551.23,418.73 552.41,417.47 553.59,416.18 554.77,414.86 555.95,413.51 557.13,412.14 558.31,410.74 559.49,409.31 560.67,407.86 561.85,406.39 563.03,404.89 564.21,403.38 565.39,401.84 566.57,400.28 567.75,398.70 568.92,397.11 570.10,395.51 571.28,393.89 572.46,392.25 573.64,390.61 574.82,388.96 576.00,387.30 577.18,385.64 578.36,383.97 579.54,382.30 580.72,380.63 581.90,378.96 583.08,377.30 584.26,375.64 585.44,373.99 586.62,372.35 587.80,370.71 588.98,369.09 590.16,367.49 591.34,365.90 592.51,364.32 593.69,362.76 594.87,361.22 596.05,359.71 597.23,358.21 598.41,356.74 599.59,355.29 600.77,353.86 601.95,352.46 603.13,351.09 604.31,349.74 605.49,348.42 606.67,347.13 607.85,345.87 609.03,344.64 610.21,343.43 611.39,342.26 612.57,341.11 613.75,340.00 614.92,338.91 616.10,337.85 617.28,336.83 618.46,335.83 619.64,334.86 620.82,333.92 622.00,333.01 623.18,332.12 624.36,331.27 625.54,330.44 626.72,329.64 627.90,328.86 629.08,328.11 630.26,327.39 631.44,326.69 632.62,326.01 633.80,325.36 634.98,324.73 636.16,324.13 637.34,323.54 638.51,322.98 639.69,322.44 640.87,321.92 642.05,321.42 643.23,320.93 644.41,320.47 645.59,320.02 646.77,319.59 647.95,319.18 649.13,318.79 650.31,318.41 651.49,318.04 652.67,317.69 653.85,317.35 655.03,317.03 656.21,316.72 657.39,316.42 658.57,316.14 659.75,315.86 660.93,315.60 662.11,315.35 663.28,315.11 664.46,314.88 665.64,314.66 666.82,314.45 668.00,314.24 669.18,314.05 670.36,313.86 671.54,313.69 672.72,313.52 673.90,313.35" fill="none" stroke="#000" stroke-width="2.4" stroke-linejoin="round" stroke-linecap="round" stroke-dasharray="5.8 4.6" stroke-linecap="butt"/>
<line x1="485.18" y1="430.88" x2="485.18" y2="449.00" stroke="#000" stroke-width="1.7" />
<line x1="482.38" y1="430.88" x2="487.98" y2="430.88" stroke="#000" stroke-width="1.7" />
<line x1="482.38" y1="449.00" x2="487.98" y2="449.00" stroke="#000" stroke-width="1.7" />
<line x1="508.77" y1="400.43" x2="508.77" y2="422.90" stroke="#000" stroke-width="1.7" />
<line x1="505.97" y1="400.43" x2="511.57" y2="400.43" stroke="#000" stroke-width="1.7" />
<line x1="505.97" y1="422.90" x2="511.57" y2="422.90" stroke="#000" stroke-width="1.7" />
<line x1="516.08" y1="400.43" x2="516.08" y2="412.75" stroke="#000" stroke-width="1.7" />
<line x1="513.28" y1="400.43" x2="518.88" y2="400.43" stroke="#000" stroke-width="1.7" />
<line x1="513.28" y1="412.75" x2="518.88" y2="412.75" stroke="#000" stroke-width="1.7" />
<line x1="529.77" y1="327.93" x2="529.77" y2="363.45" stroke="#000" stroke-width="1.7" />
<line x1="526.97" y1="327.93" x2="532.57" y2="327.93" stroke="#000" stroke-width="1.7" />
<line x1="526.97" y1="363.45" x2="532.57" y2="363.45" stroke="#000" stroke-width="1.7" />
<line x1="531.89" y1="330.10" x2="531.89" y2="347.50" stroke="#000" stroke-width="1.7" />
<line x1="529.09" y1="330.10" x2="534.69" y2="330.10" stroke="#000" stroke-width="1.7" />
<line x1="529.09" y1="347.50" x2="534.69" y2="347.50" stroke="#000" stroke-width="1.7" />
<line x1="555.95" y1="314.15" x2="555.95" y2="327.20" stroke="#000" stroke-width="1.7" />
<line x1="553.15" y1="314.15" x2="558.75" y2="314.15" stroke="#000" stroke-width="1.7" />
<line x1="553.15" y1="327.20" x2="558.75" y2="327.20" stroke="#000" stroke-width="1.7" />
<circle cx="461.59" cy="454.80" r="3.9" fill="#000"/>
<circle cx="485.18" cy="440.30" r="3.9" fill="#000"/>
<circle cx="508.77" cy="411.30" r="3.9" fill="#000"/>
<circle cx="516.08" cy="405.50" r="3.9" fill="#000"/>
<circle cx="522.92" cy="379.40" r="3.9" fill="#000"/>
<circle cx="529.77" cy="345.33" r="3.9" fill="#000"/>
<circle cx="531.89" cy="340.25" r="3.9" fill="#000"/>
<circle cx="555.95" cy="320.38" r="3.9" fill="#000"/>
<circle cx="485.18" cy="451.18" r="3.0" fill="#fff" stroke="#000" stroke-width="1.6"/>
<circle cx="508.77" cy="446.10" r="3.0" fill="#fff" stroke="#000" stroke-width="1.6"/>
<circle cx="532.36" cy="437.40" r="3.0" fill="#fff" stroke="#000" stroke-width="1.6"/>
<circle cx="555.95" cy="409.85" r="3.0" fill="#fff" stroke="#000" stroke-width="1.6"/>
<circle cx="579.54" cy="383.75" r="3.0" fill="#fff" stroke="#000" stroke-width="1.6"/>
<circle cx="603.13" cy="349.68" r="3.0" fill="#fff" stroke="#000" stroke-width="1.6"/>
<line x1="217.70" y1="548.20" x2="217.70" y2="739.20" stroke="#000" stroke-width="1.8" />
<line x1="209.70" y1="738.40" x2="217.70" y2="738.40" stroke="#000" stroke-width="1.6" />
<line x1="213.10" y1="720.26" x2="217.70" y2="720.26" stroke="#000" stroke-width="1.6" />
<line x1="209.70" y1="702.13" x2="217.70" y2="702.13" stroke="#000" stroke-width="1.6" />
<line x1="213.10" y1="684.00" x2="217.70" y2="684.00" stroke="#000" stroke-width="1.6" />
<line x1="209.70" y1="665.86" x2="217.70" y2="665.86" stroke="#000" stroke-width="1.6" />
<line x1="213.10" y1="647.73" x2="217.70" y2="647.73" stroke="#000" stroke-width="1.6" />
<line x1="209.70" y1="629.59" x2="217.70" y2="629.59" stroke="#000" stroke-width="1.6" />
<line x1="213.10" y1="611.45" x2="217.70" y2="611.45" stroke="#000" stroke-width="1.6" />
<line x1="209.70" y1="593.32" x2="217.70" y2="593.32" stroke="#000" stroke-width="1.6" />
<line x1="213.10" y1="575.18" x2="217.70" y2="575.18" stroke="#000" stroke-width="1.6" />
<line x1="209.70" y1="557.05" x2="217.70" y2="557.05" stroke="#000" stroke-width="1.6" />
<text x="206.20" y="743.40" font-size="14" font-weight="bold" text-anchor="end" fill="#000" stroke="#000" stroke-width="0.3" textLength="7.7" lengthAdjust="spacingAndGlyphs" >0</text>
<text x="206.20" y="707.13" font-size="14" font-weight="bold" text-anchor="end" fill="#000" stroke="#000" stroke-width="0.3" textLength="15.4" lengthAdjust="spacingAndGlyphs" >20</text>
<text x="206.20" y="670.86" font-size="14" font-weight="bold" text-anchor="end" fill="#000" stroke="#000" stroke-width="0.3" textLength="15.4" lengthAdjust="spacingAndGlyphs" >40</text>
<text x="206.20" y="634.59" font-size="14" font-weight="bold" text-anchor="end" fill="#000" stroke="#000" stroke-width="0.3" textLength="15.4" lengthAdjust="spacingAndGlyphs" >60</text>
<text x="206.20" y="598.32" font-size="14" font-weight="bold" text-anchor="end" fill="#000" stroke="#000" stroke-width="0.3" textLength="15.4" lengthAdjust="spacingAndGlyphs" >80</text>
<text x="206.20" y="562.05" font-size="14" font-weight="bold" text-anchor="end" fill="#000" stroke="#000" stroke-width="0.3" textLength="23.1" lengthAdjust="spacingAndGlyphs" >100</text>
<line x1="216.90" y1="738.50" x2="239.50" y2="738.50" stroke="#000" stroke-width="1.8" />
<line x1="227.80" y1="738.50" x2="227.80" y2="748.00" stroke="#000" stroke-width="1.8" />
<line x1="239.50" y1="732.40" x2="239.50" y2="744.00" stroke="#000" stroke-width="1.8" />
<line x1="255.40" y1="738.50" x2="503.80" y2="738.50" stroke="#000" stroke-width="1.8" />
<line x1="255.40" y1="732.40" x2="255.40" y2="744.00" stroke="#000" stroke-width="1.8" />
<line x1="263.60" y1="738.50" x2="263.60" y2="748.60" stroke="#000" stroke-width="1.8" />
<text x="263.60" y="765.10" font-size="14" font-weight="bold" text-anchor="middle" fill="#000" stroke="#000" stroke-width="0.3" textLength="20.4" lengthAdjust="spacingAndGlyphs" >-14</text>
<line x1="316.80" y1="738.50" x2="316.80" y2="748.60" stroke="#000" stroke-width="1.8" />
<text x="316.80" y="765.10" font-size="14" font-weight="bold" text-anchor="middle" fill="#000" stroke="#000" stroke-width="0.3" textLength="20.4" lengthAdjust="spacingAndGlyphs" >-12</text>
<line x1="370.00" y1="738.50" x2="370.00" y2="748.60" stroke="#000" stroke-width="1.8" />
<text x="370.00" y="765.10" font-size="14" font-weight="bold" text-anchor="middle" fill="#000" stroke="#000" stroke-width="0.3" textLength="20.4" lengthAdjust="spacingAndGlyphs" >-10</text>
<line x1="423.20" y1="738.50" x2="423.20" y2="748.60" stroke="#000" stroke-width="1.8" />
<text x="423.20" y="765.10" font-size="14" font-weight="bold" text-anchor="middle" fill="#000" stroke="#000" stroke-width="0.3" textLength="11.6" lengthAdjust="spacingAndGlyphs" >-8</text>
<line x1="476.40" y1="738.50" x2="476.40" y2="748.60" stroke="#000" stroke-width="1.8" />
<text x="476.40" y="765.10" font-size="14" font-weight="bold" text-anchor="middle" fill="#000" stroke="#000" stroke-width="0.3" textLength="11.6" lengthAdjust="spacingAndGlyphs" >-6</text>
<text x="360.60" y="787.00" font-size="15.2" font-weight="bold" text-anchor="middle" fill="#000" stroke="#000" stroke-width="0.3" textLength="110.8" lengthAdjust="spacingAndGlyphs" >log [DynA 1-13]</text>
<text x="167.50" y="732.10" font-size="11.2" font-weight="bold" text-anchor="start" fill="#000" stroke="#000" stroke-width="0.1" transform="rotate(-90 167.50 732.10)" >3</text>
<text x="172.80" y="724.80" font-size="16" font-weight="bold" text-anchor="start" fill="#000" stroke="#000" stroke-width="0.3" textLength="169.8" lengthAdjust="spacingAndGlyphs" transform="rotate(-90 172.80 724.80)" >H-naloxone binding (%)</text>
<text x="143.10" y="548.60" font-size="24.8" font-weight="normal" text-anchor="start" fill="#000" stroke="#000" stroke-width="0.35" >e</text>
<line x1="227.80" y1="602.39" x2="239.50" y2="602.39" stroke="#000" stroke-width="1.3" />
<polyline points="255.62,602.39 256.95,602.39 258.28,602.39 259.61,602.39 260.94,602.39 262.27,602.39 263.60,602.39 264.93,602.39 266.26,602.39 267.59,602.39 268.92,602.39 270.25,602.39 271.58,602.39 272.91,602.39 274.24,602.39 275.57,602.39 276.90,602.39 278.23,602.39 279.56,602.39 280.89,602.39 282.22,602.39 283.55,602.39 284.88,602.39 286.21,602.39 287.54,602.39 288.87,602.39 290.20,602.39 291.53,602.39 292.86,602.39 294.19,602.39 295.52,602.39 296.85,602.39 298.18,602.39 299.51,602.39 300.84,602.40 302.17,602.40 303.50,602.40 304.83,602.40 306.16,602.40 307.49,602.40 308.82,602.40 310.15,602.41 311.48,602.41 312.81,602.41 314.14,602.41 315.47,602.42 316.80,602.42 318.13,602.42 319.46,602.43 320.79,602.43 322.12,602.44 323.45,602.44 324.78,602.45 326.11,602.46 327.44,602.47 328.77,602.48 330.10,602.49 331.43,602.50 332.76,602.51 334.09,602.53 335.42,602.55 336.75,602.57 338.08,602.59 339.41,602.61 340.74,602.64 342.07,602.67 343.40,602.70 344.73,602.74 346.06,602.78 347.39,602.83 348.72,602.89 350.05,602.95 351.38,603.02 352.71,603.09 354.04,603.18 355.37,603.27 356.70,603.38 358.03,603.50 359.36,603.63 360.69,603.78 362.02,603.95 363.35,604.14 364.68,604.35 366.01,604.59 367.34,604.85 368.67,605.14 370.00,605.47 371.33,605.83 372.66,606.24 373.99,606.69 375.32,607.20 376.65,607.76 377.98,608.38 379.31,609.07 380.64,609.84 381.97,610.69 383.30,611.62 384.63,612.65 385.96,613.78 387.29,615.03 388.62,616.39 389.95,617.88 391.28,619.50 392.61,621.26 393.94,623.17 395.27,625.22 396.60,627.43 397.93,629.79 399.26,632.30 400.59,634.96 401.92,637.76 403.25,640.70 404.58,643.77 405.91,646.95 407.24,650.22 408.57,653.57 409.90,656.98 411.23,660.43 412.56,663.89 413.89,667.34 415.22,670.76 416.55,674.12 417.88,677.41 419.21,680.61 420.54,683.70 421.87,686.67 423.20,689.50 424.53,692.19 425.86,694.73 427.19,697.12 428.52,699.36 429.85,701.44 431.18,703.38 432.51,705.17 433.84,706.82 435.17,708.33 436.50,709.72 437.83,710.99 439.16,712.14 440.49,713.19 441.82,714.14 443.15,715.01 444.48,715.79 445.81,716.49 447.14,717.13 448.47,717.70 449.80,718.22 451.13,718.68 452.46,719.10 453.79,719.47 455.12,719.81 456.45,720.11 457.78,720.37 459.11,720.61 460.44,720.83 461.77,721.02 463.10,721.19 464.43,721.35 465.76,721.49 467.09,721.61 468.42,721.72 469.75,721.82 471.08,721.90 472.41,721.98 473.74,722.05 475.07,722.11 476.40,722.17 477.73,722.22 479.06,722.26 480.39,722.30 481.72,722.33 483.05,722.37 484.38,722.39" fill="none" stroke="#000" stroke-width="1.4" stroke-linejoin="round" stroke-linecap="round" />
<line x1="227.90" y1="577.70" x2="227.90" y2="556.70" stroke="#000" stroke-width="1.4" />
<line x1="279.80" y1="610.10" x2="279.80" y2="576.90" stroke="#000" stroke-width="1.4" />
<line x1="305.30" y1="597.20" x2="305.30" y2="581.10" stroke="#000" stroke-width="1.4" />
<line x1="318.30" y1="574.90" x2="318.30" y2="562.50" stroke="#000" stroke-width="1.4" />
<line x1="330.70" y1="607.20" x2="330.70" y2="579.90" stroke="#000" stroke-width="1.4" />
<line x1="343.60" y1="603.90" x2="343.60" y2="579.90" stroke="#000" stroke-width="1.4" />
<line x1="356.50" y1="610.90" x2="356.50" y2="587.80" stroke="#000" stroke-width="1.4" />
<line x1="369.10" y1="623.50" x2="369.10" y2="613.40" stroke="#000" stroke-width="1.4" />
<line x1="381.80" y1="595.50" x2="381.80" y2="587.80" stroke="#000" stroke-width="1.4" />
<line x1="394.80" y1="648.80" x2="394.80" y2="643.10" stroke="#000" stroke-width="1.4" />
<line x1="407.50" y1="645.40" x2="407.50" y2="624.90" stroke="#000" stroke-width="1.4" />
<line x1="420.20" y1="689.00" x2="420.20" y2="680.20" stroke="#000" stroke-width="1.4" />
<line x1="433.10" y1="675.20" x2="433.10" y2="669.90" stroke="#000" stroke-width="1.4" />
<line x1="445.80" y1="716.80" x2="445.80" y2="705.40" stroke="#000" stroke-width="1.4" />
<line x1="458.50" y1="724.00" x2="458.50" y2="710.20" stroke="#000" stroke-width="1.4" />
<circle cx="227.9" cy="577.7" r="3.8" fill="#000"/>
<circle cx="266.9" cy="615.3" r="3.8" fill="#000"/>
<circle cx="279.8" cy="610.1" r="3.8" fill="#000"/>
<circle cx="292.7" cy="616.8" r="3.8" fill="#000"/>
<circle cx="305.3" cy="597.2" r="3.8" fill="#000"/>
<circle cx="318.3" cy="574.9" r="3.8" fill="#000"/>
<circle cx="330.7" cy="607.2" r="3.8" fill="#000"/>
<circle cx="343.6" cy="603.9" r="3.8" fill="#000"/>
<circle cx="356.5" cy="610.9" r="3.8" fill="#000"/>
<circle cx="369.1" cy="623.5" r="3.8" fill="#000"/>
<circle cx="381.8" cy="595.5" r="3.8" fill="#000"/>
<circle cx="394.8" cy="648.8" r="3.8" fill="#000"/>
<circle cx="407.5" cy="645.4" r="3.8" fill="#000"/>
<circle cx="420.2" cy="689.0" r="3.8" fill="#000"/>
<circle cx="433.1" cy="675.2" r="3.8" fill="#000"/>
<circle cx="445.8" cy="716.8" r="3.8" fill="#000"/>
<circle cx="458.5" cy="724.0" r="3.8" fill="#000"/>
<circle cx="471.5" cy="738.5" r="3.8" fill="#000"/>
<circle cx="484.2" cy="728.2" r="3.8" fill="#000"/>
</svg>
</body></html>
